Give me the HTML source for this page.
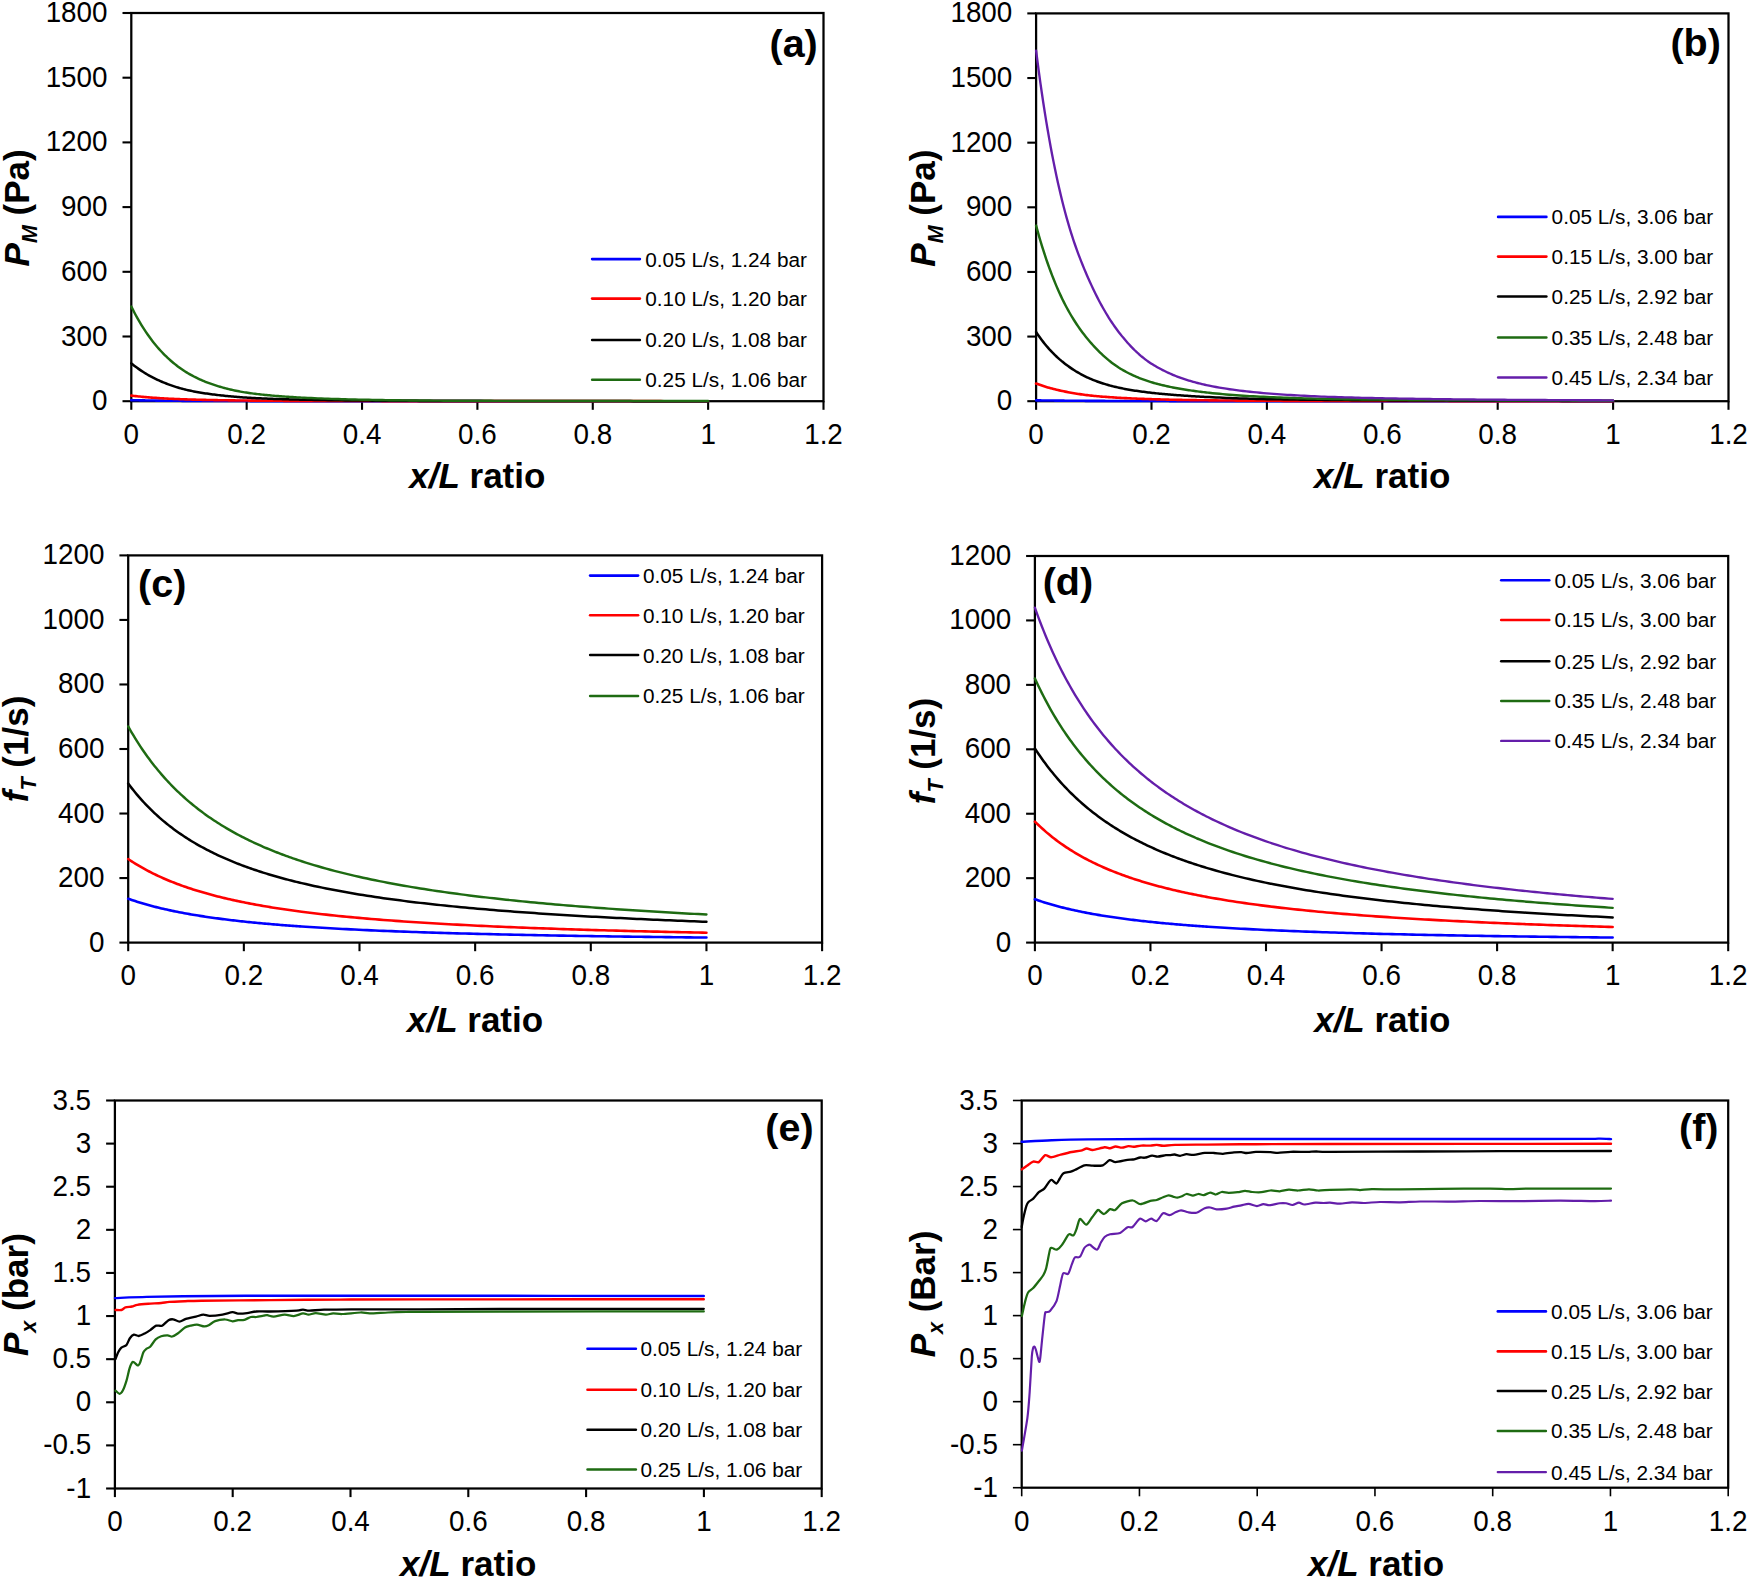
<!DOCTYPE html>
<html lang="en"><head><meta charset="utf-8"><title>Figure</title>
<style>html,body{margin:0;padding:0;background:#fff}svg{display:block;font-family:'Liberation Sans', Arial, Helvetica, sans-serif;fill:#000}</style></head>
<body><svg width="1750" height="1578" viewBox="0 0 1750 1578">
<rect width="1750" height="1578" fill="#fff"/>
<rect x="131.3" y="13" width="692.2" height="388.2" fill="none" stroke="#000" stroke-width="2.25"/>
<line x1="131.3" y1="401.2" x2="131.3" y2="409.8" stroke="#000" stroke-width="2.1" stroke-linecap="butt"/>
<text transform="translate(131.3 444) scale(0.915 1)" font-size="30.4" text-anchor="middle" font-weight="normal" font-style="normal">0</text>
<line x1="246.67" y1="401.2" x2="246.67" y2="409.8" stroke="#000" stroke-width="2.1" stroke-linecap="butt"/>
<text transform="translate(246.67 444) scale(0.915 1)" font-size="30.4" text-anchor="middle" font-weight="normal" font-style="normal">0.2</text>
<line x1="362.03" y1="401.2" x2="362.03" y2="409.8" stroke="#000" stroke-width="2.1" stroke-linecap="butt"/>
<text transform="translate(362.03 444) scale(0.915 1)" font-size="30.4" text-anchor="middle" font-weight="normal" font-style="normal">0.4</text>
<line x1="477.4" y1="401.2" x2="477.4" y2="409.8" stroke="#000" stroke-width="2.1" stroke-linecap="butt"/>
<text transform="translate(477.4 444) scale(0.915 1)" font-size="30.4" text-anchor="middle" font-weight="normal" font-style="normal">0.6</text>
<line x1="592.77" y1="401.2" x2="592.77" y2="409.8" stroke="#000" stroke-width="2.1" stroke-linecap="butt"/>
<text transform="translate(592.77 444) scale(0.915 1)" font-size="30.4" text-anchor="middle" font-weight="normal" font-style="normal">0.8</text>
<line x1="708.13" y1="401.2" x2="708.13" y2="409.8" stroke="#000" stroke-width="2.1" stroke-linecap="butt"/>
<text transform="translate(708.13 444) scale(0.915 1)" font-size="30.4" text-anchor="middle" font-weight="normal" font-style="normal">1</text>
<line x1="823.5" y1="401.2" x2="823.5" y2="409.8" stroke="#000" stroke-width="2.1" stroke-linecap="butt"/>
<text transform="translate(823.5 444) scale(0.915 1)" font-size="30.4" text-anchor="middle" font-weight="normal" font-style="normal">1.2</text>
<line x1="122.5" y1="401.2" x2="131.3" y2="401.2" stroke="#000" stroke-width="2.1" stroke-linecap="butt"/>
<text transform="translate(107.5 410.2) scale(0.915 1)" font-size="30.4" text-anchor="end" font-weight="normal" font-style="normal">0</text>
<line x1="122.5" y1="336.5" x2="131.3" y2="336.5" stroke="#000" stroke-width="2.1" stroke-linecap="butt"/>
<text transform="translate(107.5 345.5) scale(0.915 1)" font-size="30.4" text-anchor="end" font-weight="normal" font-style="normal">300</text>
<line x1="122.5" y1="271.8" x2="131.3" y2="271.8" stroke="#000" stroke-width="2.1" stroke-linecap="butt"/>
<text transform="translate(107.5 280.8) scale(0.915 1)" font-size="30.4" text-anchor="end" font-weight="normal" font-style="normal">600</text>
<line x1="122.5" y1="207.1" x2="131.3" y2="207.1" stroke="#000" stroke-width="2.1" stroke-linecap="butt"/>
<text transform="translate(107.5 216.1) scale(0.915 1)" font-size="30.4" text-anchor="end" font-weight="normal" font-style="normal">900</text>
<line x1="122.5" y1="142.4" x2="131.3" y2="142.4" stroke="#000" stroke-width="2.1" stroke-linecap="butt"/>
<text transform="translate(107.5 151.4) scale(0.915 1)" font-size="30.4" text-anchor="end" font-weight="normal" font-style="normal">1200</text>
<line x1="122.5" y1="77.7" x2="131.3" y2="77.7" stroke="#000" stroke-width="2.1" stroke-linecap="butt"/>
<text transform="translate(107.5 86.7) scale(0.915 1)" font-size="30.4" text-anchor="end" font-weight="normal" font-style="normal">1500</text>
<line x1="122.5" y1="13" x2="131.3" y2="13" stroke="#000" stroke-width="2.1" stroke-linecap="butt"/>
<text transform="translate(107.5 22) scale(0.915 1)" font-size="30.4" text-anchor="end" font-weight="normal" font-style="normal">1800</text>
<path d="M131.3 400.16 L132.75 400.2 L134.21 400.23 L135.66 400.26 L137.12 400.29 L138.57 400.32 L140.03 400.35 L141.48 400.37 L142.93 400.4 L144.39 400.42 L145.84 400.45 L147.3 400.47 L148.75 400.49 L150.2 400.51 L151.66 400.53 L153.11 400.55 L154.57 400.57 L156.02 400.59 L157.48 400.61 L158.93 400.63 L160.38 400.64 L161.84 400.66 L163.29 400.67 L164.75 400.69 L166.2 400.7 L167.66 400.72 L169.11 400.73 L170.56 400.74 L172.02 400.76 L173.47 400.77 L174.93 400.78 L176.38 400.79 L177.83 400.8 L179.29 400.81 L180.74 400.82 L182.2 400.83 L183.65 400.84 L185.11 400.85 L186.56 400.86 L188.01 400.87 L189.47 400.88 L190.92 400.89 L192.38 400.9 L193.83 400.9 L195.28 400.91 L196.74 400.92 L198.19 400.93 L199.65 400.93 L201.1 400.94 L202.56 400.95 L204.01 400.95 L205.46 400.96 L206.92 400.97 L208.37 400.97 L209.83 400.98 L211.28 400.98 L212.74 400.99 L214.19 400.99 L215.64 401 L217.1 401 L218.55 401.01 L220.01 401.01 L221.46 401.02 L222.91 401.02 L224.37 401.02 L225.82 401.03 L227.28 401.03 L228.73 401.04 L230.19 401.04 L231.64 401.04 L233.09 401.04 L234.55 401.05 L236 401.05 L237.46 401.05 L238.91 401.06 L240.37 401.06 L241.82 401.06 L243.27 401.06 L244.73 401.07 L246.18 401.07 L247.64 401.07 L249.09 401.07 L250.54 401.08 L252 401.08 L253.45 401.08 L254.91 401.08 L256.36 401.09 L257.82 401.09 L259.27 401.09 L260.72 401.09 L262.18 401.09 L263.63 401.1 L265.09 401.1 L266.54 401.1 L267.99 401.1 L269.45 401.1 L270.9 401.11 L272.36 401.11 L273.81 401.11 L275.27 401.11 L276.72 401.11 L278.17 401.11 L279.63 401.12 L281.08 401.12 L282.54 401.12 L283.99 401.12 L285.45 401.12 L286.9 401.12 L288.35 401.12 L289.81 401.13 L291.26 401.13 L292.72 401.13 L294.17 401.13 L295.62 401.13 L297.08 401.13 L298.53 401.13 L299.99 401.13 L301.44 401.13 L302.9 401.13 L304.35 401.14 L307.74 401.14 L311.14 401.14 L314.53 401.14 L317.92 401.14 L321.32 401.14 L324.71 401.15 L328.1 401.15 L331.5 401.15 L334.89 401.15 L338.28 401.15 L341.67 401.15 L345.07 401.15 L348.46 401.15 L351.85 401.15 L355.25 401.16 L358.64 401.16 L362.03 401.16 L365.43 401.16 L368.82 401.16 L372.21 401.16 L375.61 401.16 L379 401.16 L382.39 401.16 L385.79 401.16 L389.18 401.16 L392.57 401.16 L395.96 401.16 L399.36 401.16 L402.75 401.17 L406.14 401.17 L409.54 401.17 L412.93 401.17 L416.32 401.17 L419.72 401.17 L423.11 401.17 L426.5 401.17 L429.9 401.17 L433.29 401.17 L436.68 401.17 L440.08 401.17 L443.47 401.17 L446.86 401.17 L450.25 401.17 L453.65 401.17 L457.04 401.17 L460.43 401.17 L463.83 401.17 L467.22 401.17 L470.61 401.17 L474.01 401.17 L477.4 401.17 L480.79 401.17 L484.19 401.18 L487.58 401.18 L490.97 401.18 L494.37 401.18 L497.76 401.18 L501.15 401.18 L504.55 401.18 L507.94 401.18 L511.33 401.18 L514.72 401.18 L518.12 401.18 L521.51 401.18 L524.9 401.18 L528.3 401.18 L531.69 401.18 L535.08 401.18 L538.48 401.18 L541.87 401.18 L545.26 401.18 L548.66 401.18 L552.05 401.18 L555.44 401.18 L558.84 401.18 L562.23 401.18 L565.62 401.18 L569.01 401.18 L572.41 401.18 L575.8 401.18 L579.19 401.18 L582.59 401.18 L585.98 401.18 L589.37 401.18 L592.77 401.18 L596.16 401.18 L599.55 401.18 L602.95 401.18 L606.34 401.18 L609.73 401.18 L613.13 401.18 L616.52 401.18 L619.91 401.18 L623.3 401.18 L626.7 401.18 L630.09 401.18 L633.48 401.18 L636.88 401.18 L640.27 401.18 L643.66 401.18 L647.06 401.18 L650.45 401.18 L653.84 401.18 L657.24 401.18 L660.63 401.18 L664.02 401.18 L667.42 401.18 L670.81 401.18 L674.2 401.18 L677.6 401.18 L680.99 401.18 L684.38 401.18 L687.77 401.18 L691.17 401.18 L694.56 401.18 L697.95 401.18 L701.35 401.18 L704.74 401.18 L708.13 401.18" fill="none" stroke="#0000ff" stroke-width="2.6" stroke-linejoin="round" stroke-linecap="round"/>
<path d="M131.3 395.59 L132.75 395.77 L134.21 395.95 L135.66 396.11 L137.12 396.27 L138.57 396.43 L140.03 396.58 L141.48 396.72 L142.93 396.86 L144.39 397 L145.84 397.13 L147.3 397.25 L148.75 397.37 L150.2 397.49 L151.66 397.6 L153.11 397.71 L154.57 397.81 L156.02 397.91 L157.48 398.01 L158.93 398.1 L160.38 398.2 L161.84 398.28 L163.29 398.37 L164.75 398.45 L166.2 398.53 L167.66 398.6 L169.11 398.68 L170.56 398.75 L172.02 398.82 L173.47 398.88 L174.93 398.95 L176.38 399.01 L177.83 399.07 L179.29 399.13 L180.74 399.19 L182.2 399.24 L183.65 399.29 L185.11 399.35 L186.56 399.4 L188.01 399.44 L189.47 399.49 L190.92 399.54 L192.38 399.58 L193.83 399.62 L195.28 399.66 L196.74 399.7 L198.19 399.74 L199.65 399.78 L201.1 399.82 L202.56 399.85 L204.01 399.89 L205.46 399.92 L206.92 399.95 L208.37 399.98 L209.83 400.01 L211.28 400.04 L212.74 400.07 L214.19 400.1 L215.64 400.13 L217.1 400.15 L218.55 400.18 L220.01 400.2 L221.46 400.23 L222.91 400.25 L224.37 400.27 L225.82 400.3 L227.28 400.32 L228.73 400.34 L230.19 400.36 L231.64 400.38 L233.09 400.4 L234.55 400.42 L236 400.43 L237.46 400.45 L238.91 400.47 L240.37 400.49 L241.82 400.5 L243.27 400.52 L244.73 400.53 L246.18 400.55 L247.64 400.56 L249.09 400.58 L250.54 400.59 L252 400.6 L253.45 400.62 L254.91 400.63 L256.36 400.64 L257.82 400.66 L259.27 400.67 L260.72 400.68 L262.18 400.69 L263.63 400.7 L265.09 400.71 L266.54 400.72 L267.99 400.73 L269.45 400.74 L270.9 400.75 L272.36 400.76 L273.81 400.77 L275.27 400.78 L276.72 400.79 L278.17 400.8 L279.63 400.81 L281.08 400.82 L282.54 400.82 L283.99 400.83 L285.45 400.84 L286.9 400.85 L288.35 400.85 L289.81 400.86 L291.26 400.87 L292.72 400.87 L294.17 400.88 L295.62 400.89 L297.08 400.89 L298.53 400.9 L299.99 400.9 L301.44 400.91 L302.9 400.91 L304.35 400.92 L307.74 400.93 L311.14 400.94 L314.53 400.95 L317.92 400.96 L321.32 400.97 L324.71 400.98 L328.1 400.99 L331.5 400.99 L334.89 401 L338.28 401.01 L341.67 401.01 L345.07 401.02 L348.46 401.03 L351.85 401.03 L355.25 401.04 L358.64 401.04 L362.03 401.05 L365.43 401.05 L368.82 401.06 L372.21 401.06 L375.61 401.07 L379 401.07 L382.39 401.08 L385.79 401.08 L389.18 401.09 L392.57 401.09 L395.96 401.09 L399.36 401.1 L402.75 401.1 L406.14 401.1 L409.54 401.11 L412.93 401.11 L416.32 401.11 L419.72 401.11 L423.11 401.12 L426.5 401.12 L429.9 401.12 L433.29 401.12 L436.68 401.12 L440.08 401.13 L443.47 401.13 L446.86 401.13 L450.25 401.13 L453.65 401.13 L457.04 401.13 L460.43 401.13 L463.83 401.14 L467.22 401.14 L470.61 401.14 L474.01 401.14 L477.4 401.14 L480.79 401.14 L484.19 401.14 L487.58 401.14 L490.97 401.15 L494.37 401.15 L497.76 401.15 L501.15 401.15 L504.55 401.15 L507.94 401.15 L511.33 401.15 L514.72 401.15 L518.12 401.15 L521.51 401.15 L524.9 401.15 L528.3 401.16 L531.69 401.16 L535.08 401.16 L538.48 401.16 L541.87 401.16 L545.26 401.16 L548.66 401.16 L552.05 401.16 L555.44 401.16 L558.84 401.16 L562.23 401.16 L565.62 401.16 L569.01 401.16 L572.41 401.16 L575.8 401.16 L579.19 401.16 L582.59 401.17 L585.98 401.17 L589.37 401.17 L592.77 401.17 L596.16 401.17 L599.55 401.17 L602.95 401.17 L606.34 401.17 L609.73 401.17 L613.13 401.17 L616.52 401.17 L619.91 401.17 L623.3 401.17 L626.7 401.17 L630.09 401.17 L633.48 401.17 L636.88 401.17 L640.27 401.17 L643.66 401.17 L647.06 401.17 L650.45 401.17 L653.84 401.17 L657.24 401.17 L660.63 401.17 L664.02 401.18 L667.42 401.18 L670.81 401.18 L674.2 401.18 L677.6 401.18 L680.99 401.18 L684.38 401.18 L687.77 401.18 L691.17 401.18 L694.56 401.18 L697.95 401.18 L701.35 401.18 L704.74 401.18 L708.13 401.18" fill="none" stroke="#ff0000" stroke-width="2.6" stroke-linejoin="round" stroke-linecap="round"/>
<path d="M131.3 363.35 L132.75 364.53 L134.21 365.67 L135.66 366.78 L137.12 367.85 L138.57 368.89 L140.03 369.89 L141.48 370.87 L142.93 371.81 L144.39 372.73 L145.84 373.61 L147.3 374.47 L148.75 375.31 L150.2 376.11 L151.66 376.89 L153.11 377.65 L154.57 378.39 L156.02 379.1 L157.48 379.78 L158.93 380.45 L160.38 381.1 L161.84 381.73 L163.29 382.34 L164.75 382.93 L166.2 383.51 L167.66 384.07 L169.11 384.62 L170.56 385.14 L172.02 385.65 L173.47 386.15 L174.93 386.62 L176.38 387.08 L177.83 387.53 L179.29 387.95 L180.74 388.37 L182.2 388.76 L183.65 389.14 L185.11 389.51 L186.56 389.86 L188.01 390.2 L189.47 390.52 L190.92 390.83 L192.38 391.13 L193.83 391.42 L195.28 391.7 L196.74 391.97 L198.19 392.23 L199.65 392.48 L201.1 392.72 L202.56 392.96 L204.01 393.18 L205.46 393.4 L206.92 393.61 L208.37 393.82 L209.83 394.02 L211.28 394.22 L212.74 394.41 L214.19 394.59 L215.64 394.77 L217.1 394.95 L218.55 395.12 L220.01 395.28 L221.46 395.45 L222.91 395.6 L224.37 395.76 L225.82 395.91 L227.28 396.05 L228.73 396.19 L230.19 396.33 L231.64 396.46 L233.09 396.59 L234.55 396.72 L236 396.84 L237.46 396.95 L238.91 397.07 L240.37 397.17 L241.82 397.28 L243.27 397.38 L244.73 397.48 L246.18 397.57 L247.64 397.66 L249.09 397.74 L250.54 397.83 L252 397.91 L253.45 397.99 L254.91 398.06 L256.36 398.14 L257.82 398.21 L259.27 398.28 L260.72 398.35 L262.18 398.41 L263.63 398.48 L265.09 398.54 L266.54 398.6 L267.99 398.66 L269.45 398.72 L270.9 398.77 L272.36 398.83 L273.81 398.88 L275.27 398.93 L276.72 398.98 L278.17 399.03 L279.63 399.08 L281.08 399.12 L282.54 399.17 L283.99 399.21 L285.45 399.26 L286.9 399.3 L288.35 399.34 L289.81 399.38 L291.26 399.42 L292.72 399.46 L294.17 399.49 L295.62 399.53 L297.08 399.57 L298.53 399.6 L299.99 399.64 L301.44 399.67 L302.9 399.7 L304.35 399.73 L307.74 399.81 L311.14 399.87 L314.53 399.94 L317.92 400 L321.32 400.06 L324.71 400.11 L328.1 400.17 L331.5 400.22 L334.89 400.26 L338.28 400.31 L341.67 400.35 L345.07 400.39 L348.46 400.42 L351.85 400.46 L355.25 400.49 L358.64 400.52 L362.03 400.55 L365.43 400.58 L368.82 400.61 L372.21 400.63 L375.61 400.66 L379 400.68 L382.39 400.7 L385.79 400.72 L389.18 400.74 L392.57 400.76 L395.96 400.78 L399.36 400.8 L402.75 400.81 L406.14 400.83 L409.54 400.84 L412.93 400.85 L416.32 400.87 L419.72 400.88 L423.11 400.89 L426.5 400.9 L429.9 400.91 L433.29 400.92 L436.68 400.92 L440.08 400.93 L443.47 400.94 L446.86 400.95 L450.25 400.96 L453.65 400.96 L457.04 400.97 L460.43 400.98 L463.83 400.98 L467.22 400.99 L470.61 400.99 L474.01 401 L477.4 401.01 L480.79 401.01 L484.19 401.02 L487.58 401.02 L490.97 401.02 L494.37 401.03 L497.76 401.03 L501.15 401.04 L504.55 401.04 L507.94 401.05 L511.33 401.05 L514.72 401.05 L518.12 401.06 L521.51 401.06 L524.9 401.06 L528.3 401.06 L531.69 401.07 L535.08 401.07 L538.48 401.07 L541.87 401.08 L545.26 401.08 L548.66 401.08 L552.05 401.08 L555.44 401.09 L558.84 401.09 L562.23 401.09 L565.62 401.09 L569.01 401.09 L572.41 401.1 L575.8 401.1 L579.19 401.1 L582.59 401.1 L585.98 401.1 L589.37 401.11 L592.77 401.11 L596.16 401.11 L599.55 401.11 L602.95 401.11 L606.34 401.12 L609.73 401.12 L613.13 401.12 L616.52 401.12 L619.91 401.12 L623.3 401.12 L626.7 401.12 L630.09 401.12 L633.48 401.13 L636.88 401.13 L640.27 401.13 L643.66 401.13 L647.06 401.13 L650.45 401.13 L653.84 401.13 L657.24 401.13 L660.63 401.14 L664.02 401.14 L667.42 401.14 L670.81 401.14 L674.2 401.14 L677.6 401.14 L680.99 401.14 L684.38 401.14 L687.77 401.14 L691.17 401.14 L694.56 401.14 L697.95 401.14 L701.35 401.14 L704.74 401.15 L708.13 401.15" fill="none" stroke="#000000" stroke-width="2.5" stroke-linejoin="round" stroke-linecap="round"/>
<path d="M131.3 306.52 L132.75 309.42 L134.21 312.23 L135.66 314.96 L137.12 317.6 L138.57 320.17 L140.03 322.65 L141.48 325.06 L142.93 327.4 L144.39 329.66 L145.84 331.86 L147.3 333.99 L148.75 336.06 L150.2 338.06 L151.66 340 L153.11 341.88 L154.57 343.7 L156.02 345.47 L157.48 347.19 L158.93 348.85 L160.38 350.46 L161.84 352.02 L163.29 353.54 L164.75 355.02 L166.2 356.45 L167.66 357.84 L169.11 359.19 L170.56 360.49 L172.02 361.76 L173.47 362.98 L174.93 364.17 L176.38 365.32 L177.83 366.43 L179.29 367.51 L180.74 368.55 L182.2 369.55 L183.65 370.52 L185.11 371.46 L186.56 372.37 L188.01 373.24 L189.47 374.09 L190.92 374.91 L192.38 375.7 L193.83 376.46 L195.28 377.21 L196.74 377.93 L198.19 378.62 L199.65 379.29 L201.1 379.95 L202.56 380.58 L204.01 381.19 L205.46 381.78 L206.92 382.35 L208.37 382.91 L209.83 383.44 L211.28 383.96 L212.74 384.46 L214.19 384.95 L215.64 385.42 L217.1 385.88 L218.55 386.32 L220.01 386.75 L221.46 387.17 L222.91 387.58 L224.37 387.98 L225.82 388.37 L227.28 388.74 L228.73 389.1 L230.19 389.45 L231.64 389.79 L233.09 390.12 L234.55 390.44 L236 390.74 L237.46 391.03 L238.91 391.32 L240.37 391.59 L241.82 391.85 L243.27 392.1 L244.73 392.34 L246.18 392.56 L247.64 392.78 L249.09 393 L250.54 393.2 L252 393.4 L253.45 393.59 L254.91 393.77 L256.36 393.95 L257.82 394.13 L259.27 394.3 L260.72 394.46 L262.18 394.62 L263.63 394.77 L265.09 394.92 L266.54 395.06 L267.99 395.2 L269.45 395.34 L270.9 395.47 L272.36 395.6 L273.81 395.73 L275.27 395.85 L276.72 395.97 L278.17 396.08 L279.63 396.2 L281.08 396.31 L282.54 396.41 L283.99 396.52 L285.45 396.62 L286.9 396.72 L288.35 396.82 L289.81 396.91 L291.26 397 L292.72 397.09 L294.17 397.18 L295.62 397.27 L297.08 397.35 L298.53 397.44 L299.99 397.52 L301.44 397.6 L302.9 397.67 L304.35 397.75 L307.74 397.92 L311.14 398.08 L314.53 398.23 L317.92 398.38 L321.32 398.51 L324.71 398.64 L328.1 398.76 L331.5 398.88 L334.89 398.99 L338.28 399.09 L341.67 399.19 L345.07 399.29 L348.46 399.37 L351.85 399.46 L355.25 399.54 L358.64 399.62 L362.03 399.69 L365.43 399.76 L368.82 399.83 L372.21 399.89 L375.61 399.96 L379 400.02 L382.39 400.07 L385.79 400.13 L389.18 400.18 L392.57 400.23 L395.96 400.27 L399.36 400.31 L402.75 400.35 L406.14 400.39 L409.54 400.42 L412.93 400.45 L416.32 400.48 L419.72 400.51 L423.11 400.53 L426.5 400.56 L429.9 400.58 L433.29 400.6 L436.68 400.62 L440.08 400.64 L443.47 400.66 L446.86 400.68 L450.25 400.69 L453.65 400.71 L457.04 400.72 L460.43 400.74 L463.83 400.75 L467.22 400.77 L470.61 400.78 L474.01 400.79 L477.4 400.8 L480.79 400.81 L484.19 400.82 L487.58 400.83 L490.97 400.84 L494.37 400.85 L497.76 400.86 L501.15 400.87 L504.55 400.88 L507.94 400.89 L511.33 400.9 L514.72 400.9 L518.12 400.91 L521.51 400.92 L524.9 400.92 L528.3 400.93 L531.69 400.94 L535.08 400.94 L538.48 400.95 L541.87 400.95 L545.26 400.96 L548.66 400.96 L552.05 400.97 L555.44 400.97 L558.84 400.98 L562.23 400.98 L565.62 400.99 L569.01 400.99 L572.41 401 L575.8 401 L579.19 401 L582.59 401.01 L585.98 401.01 L589.37 401.01 L592.77 401.02 L596.16 401.02 L599.55 401.03 L602.95 401.03 L606.34 401.03 L609.73 401.03 L613.13 401.04 L616.52 401.04 L619.91 401.04 L623.3 401.05 L626.7 401.05 L630.09 401.05 L633.48 401.05 L636.88 401.06 L640.27 401.06 L643.66 401.06 L647.06 401.06 L650.45 401.07 L653.84 401.07 L657.24 401.07 L660.63 401.07 L664.02 401.07 L667.42 401.08 L670.81 401.08 L674.2 401.08 L677.6 401.08 L680.99 401.08 L684.38 401.08 L687.77 401.08 L691.17 401.09 L694.56 401.09 L697.95 401.09 L701.35 401.09 L704.74 401.09 L708.13 401.09" fill="none" stroke="#1e6b12" stroke-width="2.45" stroke-linejoin="round" stroke-linecap="round"/>
<text x="477.3" y="487.9" font-size="35" text-anchor="middle" font-weight="bold"><tspan font-style="italic">x/L</tspan> ratio</text>
<text transform="translate(29 207.9) rotate(-90)" font-size="35" text-anchor="middle" font-weight="bold"><tspan font-style="italic">P</tspan><tspan font-style="italic" font-size="21.5" dy="7.6">M</tspan><tspan dy="-7.6"> (Pa)</tspan></text>
<line x1="592.1" y1="259.1" x2="639.9" y2="259.1" stroke="#0000ff" stroke-width="2.6" stroke-linecap="round"/>
<text transform="translate(645.3 266.5) scale(0.990 1)" font-size="21" text-anchor="start" font-weight="normal" font-style="normal">0.05 L/s, 1.24 bar</text>
<line x1="592.1" y1="298.6" x2="639.9" y2="298.6" stroke="#ff0000" stroke-width="2.6" stroke-linecap="round"/>
<text transform="translate(645.3 306) scale(0.990 1)" font-size="21" text-anchor="start" font-weight="normal" font-style="normal">0.10 L/s, 1.20 bar</text>
<line x1="592.1" y1="340" x2="639.9" y2="340" stroke="#000000" stroke-width="2.5" stroke-linecap="round"/>
<text transform="translate(645.3 347.4) scale(0.990 1)" font-size="21" text-anchor="start" font-weight="normal" font-style="normal">0.20 L/s, 1.08 bar</text>
<line x1="592.1" y1="379.7" x2="639.9" y2="379.7" stroke="#1e6b12" stroke-width="2.45" stroke-linecap="round"/>
<text transform="translate(645.3 387.1) scale(0.990 1)" font-size="21" text-anchor="start" font-weight="normal" font-style="normal">0.25 L/s, 1.06 bar</text>
<text transform="translate(769.5 57) scale(1.000 1)" font-size="39.5" text-anchor="start" font-weight="bold" font-style="normal">(a)</text>
<rect x="1036.1" y="13.4" width="692.4" height="387.8" fill="none" stroke="#000" stroke-width="2.25"/>
<line x1="1036.1" y1="401.2" x2="1036.1" y2="409.8" stroke="#000" stroke-width="2.1" stroke-linecap="butt"/>
<text transform="translate(1036.1 444) scale(0.915 1)" font-size="30.4" text-anchor="middle" font-weight="normal" font-style="normal">0</text>
<line x1="1151.5" y1="401.2" x2="1151.5" y2="409.8" stroke="#000" stroke-width="2.1" stroke-linecap="butt"/>
<text transform="translate(1151.5 444) scale(0.915 1)" font-size="30.4" text-anchor="middle" font-weight="normal" font-style="normal">0.2</text>
<line x1="1266.9" y1="401.2" x2="1266.9" y2="409.8" stroke="#000" stroke-width="2.1" stroke-linecap="butt"/>
<text transform="translate(1266.9 444) scale(0.915 1)" font-size="30.4" text-anchor="middle" font-weight="normal" font-style="normal">0.4</text>
<line x1="1382.3" y1="401.2" x2="1382.3" y2="409.8" stroke="#000" stroke-width="2.1" stroke-linecap="butt"/>
<text transform="translate(1382.3 444) scale(0.915 1)" font-size="30.4" text-anchor="middle" font-weight="normal" font-style="normal">0.6</text>
<line x1="1497.7" y1="401.2" x2="1497.7" y2="409.8" stroke="#000" stroke-width="2.1" stroke-linecap="butt"/>
<text transform="translate(1497.7 444) scale(0.915 1)" font-size="30.4" text-anchor="middle" font-weight="normal" font-style="normal">0.8</text>
<line x1="1613.1" y1="401.2" x2="1613.1" y2="409.8" stroke="#000" stroke-width="2.1" stroke-linecap="butt"/>
<text transform="translate(1613.1 444) scale(0.915 1)" font-size="30.4" text-anchor="middle" font-weight="normal" font-style="normal">1</text>
<line x1="1728.5" y1="401.2" x2="1728.5" y2="409.8" stroke="#000" stroke-width="2.1" stroke-linecap="butt"/>
<text transform="translate(1728.5 444) scale(0.915 1)" font-size="30.4" text-anchor="middle" font-weight="normal" font-style="normal">1.2</text>
<line x1="1027.3" y1="401.2" x2="1036.1" y2="401.2" stroke="#000" stroke-width="2.1" stroke-linecap="butt"/>
<text transform="translate(1012.3 410.2) scale(0.915 1)" font-size="30.4" text-anchor="end" font-weight="normal" font-style="normal">0</text>
<line x1="1027.3" y1="336.57" x2="1036.1" y2="336.57" stroke="#000" stroke-width="2.1" stroke-linecap="butt"/>
<text transform="translate(1012.3 345.57) scale(0.915 1)" font-size="30.4" text-anchor="end" font-weight="normal" font-style="normal">300</text>
<line x1="1027.3" y1="271.93" x2="1036.1" y2="271.93" stroke="#000" stroke-width="2.1" stroke-linecap="butt"/>
<text transform="translate(1012.3 280.93) scale(0.915 1)" font-size="30.4" text-anchor="end" font-weight="normal" font-style="normal">600</text>
<line x1="1027.3" y1="207.3" x2="1036.1" y2="207.3" stroke="#000" stroke-width="2.1" stroke-linecap="butt"/>
<text transform="translate(1012.3 216.3) scale(0.915 1)" font-size="30.4" text-anchor="end" font-weight="normal" font-style="normal">900</text>
<line x1="1027.3" y1="142.67" x2="1036.1" y2="142.67" stroke="#000" stroke-width="2.1" stroke-linecap="butt"/>
<text transform="translate(1012.3 151.67) scale(0.915 1)" font-size="30.4" text-anchor="end" font-weight="normal" font-style="normal">1200</text>
<line x1="1027.3" y1="78.03" x2="1036.1" y2="78.03" stroke="#000" stroke-width="2.1" stroke-linecap="butt"/>
<text transform="translate(1012.3 87.03) scale(0.915 1)" font-size="30.4" text-anchor="end" font-weight="normal" font-style="normal">1500</text>
<line x1="1027.3" y1="13.4" x2="1036.1" y2="13.4" stroke="#000" stroke-width="2.1" stroke-linecap="butt"/>
<text transform="translate(1012.3 22.4) scale(0.915 1)" font-size="30.4" text-anchor="end" font-weight="normal" font-style="normal">1800</text>
<path d="M1036.1 400.34 L1037.55 400.36 L1039.01 400.38 L1040.46 400.4 L1041.92 400.43 L1043.37 400.45 L1044.83 400.46 L1046.28 400.48 L1047.74 400.5 L1049.19 400.52 L1050.65 400.54 L1052.1 400.55 L1053.56 400.57 L1055.01 400.59 L1056.46 400.6 L1057.92 400.62 L1059.37 400.63 L1060.83 400.65 L1062.28 400.66 L1063.74 400.67 L1065.19 400.69 L1066.65 400.7 L1068.1 400.71 L1069.56 400.72 L1071.01 400.73 L1072.47 400.74 L1073.92 400.76 L1075.37 400.77 L1076.83 400.78 L1078.28 400.79 L1079.74 400.8 L1081.19 400.81 L1082.65 400.82 L1084.1 400.82 L1085.56 400.83 L1087.01 400.84 L1088.47 400.85 L1089.92 400.86 L1091.38 400.86 L1092.83 400.87 L1094.28 400.88 L1095.74 400.89 L1097.19 400.89 L1098.65 400.9 L1100.1 400.91 L1101.56 400.91 L1103.01 400.92 L1104.47 400.92 L1105.92 400.93 L1107.38 400.93 L1108.83 400.94 L1110.29 400.95 L1111.74 400.95 L1113.19 400.96 L1114.65 400.96 L1116.1 400.96 L1117.56 400.97 L1119.01 400.97 L1120.47 400.98 L1121.92 400.98 L1123.38 400.99 L1124.83 400.99 L1126.29 400.99 L1127.74 401 L1129.2 401 L1130.65 401.01 L1132.11 401.01 L1133.56 401.01 L1135.01 401.02 L1136.47 401.02 L1137.92 401.02 L1139.38 401.03 L1140.83 401.03 L1142.29 401.03 L1143.74 401.04 L1145.2 401.04 L1146.65 401.04 L1148.11 401.04 L1149.56 401.05 L1151.02 401.05 L1152.47 401.05 L1153.92 401.05 L1155.38 401.06 L1156.83 401.06 L1158.29 401.06 L1159.74 401.06 L1161.2 401.06 L1162.65 401.07 L1164.11 401.07 L1165.56 401.07 L1167.02 401.07 L1168.47 401.07 L1169.93 401.08 L1171.38 401.08 L1172.83 401.08 L1174.29 401.08 L1175.74 401.08 L1177.2 401.09 L1178.65 401.09 L1180.11 401.09 L1181.56 401.09 L1183.02 401.09 L1184.47 401.09 L1185.93 401.1 L1187.38 401.1 L1188.84 401.1 L1190.29 401.1 L1191.74 401.1 L1193.2 401.1 L1194.65 401.1 L1196.11 401.1 L1197.56 401.11 L1199.02 401.11 L1200.47 401.11 L1201.93 401.11 L1203.38 401.11 L1204.84 401.11 L1206.29 401.11 L1207.75 401.11 L1209.2 401.11 L1212.59 401.12 L1215.99 401.12 L1219.38 401.12 L1222.78 401.12 L1226.17 401.12 L1229.56 401.12 L1232.96 401.12 L1236.35 401.13 L1239.75 401.13 L1243.14 401.13 L1246.54 401.13 L1249.93 401.13 L1253.32 401.13 L1256.72 401.13 L1260.11 401.13 L1263.51 401.13 L1266.9 401.14 L1270.29 401.14 L1273.69 401.14 L1277.08 401.14 L1280.48 401.14 L1283.87 401.14 L1287.26 401.14 L1290.66 401.15 L1294.05 401.15 L1297.45 401.15 L1300.84 401.15 L1304.24 401.15 L1307.63 401.15 L1311.02 401.15 L1314.42 401.15 L1317.81 401.16 L1321.21 401.16 L1324.6 401.16 L1327.99 401.16 L1331.39 401.16 L1334.78 401.16 L1338.18 401.16 L1341.57 401.16 L1344.96 401.16 L1348.36 401.16 L1351.75 401.16 L1355.15 401.16 L1358.54 401.16 L1361.94 401.16 L1365.33 401.16 L1368.72 401.16 L1372.12 401.16 L1375.51 401.16 L1378.91 401.16 L1382.3 401.16 L1385.69 401.16 L1389.09 401.16 L1392.48 401.16 L1395.88 401.16 L1399.27 401.16 L1402.66 401.16 L1406.06 401.17 L1409.45 401.17 L1412.85 401.17 L1416.24 401.17 L1419.64 401.17 L1423.03 401.17 L1426.42 401.17 L1429.82 401.17 L1433.21 401.17 L1436.61 401.17 L1440 401.17 L1443.39 401.17 L1446.79 401.17 L1450.18 401.17 L1453.58 401.17 L1456.97 401.17 L1460.36 401.17 L1463.76 401.17 L1467.15 401.17 L1470.55 401.17 L1473.94 401.17 L1477.34 401.17 L1480.73 401.17 L1484.12 401.17 L1487.52 401.17 L1490.91 401.17 L1494.31 401.17 L1497.7 401.17 L1501.09 401.17 L1504.49 401.17 L1507.88 401.17 L1511.28 401.17 L1514.67 401.17 L1518.06 401.17 L1521.46 401.17 L1524.85 401.17 L1528.25 401.17 L1531.64 401.17 L1535.04 401.17 L1538.43 401.17 L1541.82 401.17 L1545.22 401.17 L1548.61 401.18 L1552.01 401.18 L1555.4 401.18 L1558.79 401.18 L1562.19 401.18 L1565.58 401.18 L1568.98 401.18 L1572.37 401.18 L1575.76 401.18 L1579.16 401.18 L1582.55 401.18 L1585.95 401.18 L1589.34 401.18 L1592.74 401.18 L1596.13 401.18 L1599.52 401.18 L1602.92 401.18 L1606.31 401.18 L1609.71 401.18 L1613.1 401.18" fill="none" stroke="#0000ff" stroke-width="2.6" stroke-linejoin="round" stroke-linecap="round"/>
<path d="M1036.1 383.53 L1037.55 384.07 L1039.01 384.59 L1040.46 385.1 L1041.92 385.59 L1043.37 386.06 L1044.83 386.52 L1046.28 386.96 L1047.74 387.39 L1049.19 387.81 L1050.65 388.21 L1052.1 388.6 L1053.56 388.98 L1055.01 389.35 L1056.46 389.7 L1057.92 390.05 L1059.37 390.38 L1060.83 390.71 L1062.28 391.02 L1063.74 391.32 L1065.19 391.62 L1066.65 391.9 L1068.1 392.18 L1069.56 392.46 L1071.01 392.72 L1072.47 392.98 L1073.92 393.23 L1075.37 393.47 L1076.83 393.7 L1078.28 393.93 L1079.74 394.15 L1081.19 394.36 L1082.65 394.56 L1084.1 394.76 L1085.56 394.95 L1087.01 395.13 L1088.47 395.3 L1089.92 395.47 L1091.38 395.63 L1092.83 395.78 L1094.28 395.93 L1095.74 396.07 L1097.19 396.2 L1098.65 396.33 L1100.1 396.46 L1101.56 396.58 L1103.01 396.7 L1104.47 396.81 L1105.92 396.92 L1107.38 397.02 L1108.83 397.13 L1110.29 397.23 L1111.74 397.32 L1113.19 397.42 L1114.65 397.51 L1116.1 397.6 L1117.56 397.68 L1119.01 397.77 L1120.47 397.85 L1121.92 397.93 L1123.38 398.01 L1124.83 398.08 L1126.29 398.16 L1127.74 398.23 L1129.2 398.3 L1130.65 398.37 L1132.11 398.44 L1133.56 398.5 L1135.01 398.57 L1136.47 398.63 L1137.92 398.69 L1139.38 398.75 L1140.83 398.8 L1142.29 398.86 L1143.74 398.91 L1145.2 398.96 L1146.65 399.01 L1148.11 399.06 L1149.56 399.11 L1151.02 399.16 L1152.47 399.21 L1153.92 399.25 L1155.38 399.29 L1156.83 399.34 L1158.29 399.38 L1159.74 399.42 L1161.2 399.46 L1162.65 399.5 L1164.11 399.53 L1165.56 399.57 L1167.02 399.61 L1168.47 399.64 L1169.93 399.68 L1171.38 399.71 L1172.83 399.74 L1174.29 399.78 L1175.74 399.81 L1177.2 399.84 L1178.65 399.87 L1180.11 399.9 L1181.56 399.92 L1183.02 399.95 L1184.47 399.98 L1185.93 400 L1187.38 400.03 L1188.84 400.05 L1190.29 400.08 L1191.74 400.1 L1193.2 400.12 L1194.65 400.15 L1196.11 400.17 L1197.56 400.19 L1199.02 400.21 L1200.47 400.23 L1201.93 400.25 L1203.38 400.27 L1204.84 400.29 L1206.29 400.3 L1207.75 400.32 L1209.2 400.34 L1212.59 400.38 L1215.99 400.41 L1219.38 400.45 L1222.78 400.48 L1226.17 400.51 L1229.56 400.54 L1232.96 400.57 L1236.35 400.59 L1239.75 400.62 L1243.14 400.64 L1246.54 400.66 L1249.93 400.68 L1253.32 400.7 L1256.72 400.72 L1260.11 400.74 L1263.51 400.75 L1266.9 400.77 L1270.29 400.78 L1273.69 400.8 L1277.08 400.81 L1280.48 400.82 L1283.87 400.84 L1287.26 400.85 L1290.66 400.86 L1294.05 400.87 L1297.45 400.88 L1300.84 400.89 L1304.24 400.9 L1307.63 400.9 L1311.02 400.91 L1314.42 400.92 L1317.81 400.93 L1321.21 400.93 L1324.6 400.94 L1327.99 400.95 L1331.39 400.95 L1334.78 400.96 L1338.18 400.97 L1341.57 400.97 L1344.96 400.98 L1348.36 400.98 L1351.75 400.99 L1355.15 400.99 L1358.54 401 L1361.94 401 L1365.33 401 L1368.72 401.01 L1372.12 401.01 L1375.51 401.02 L1378.91 401.02 L1382.3 401.02 L1385.69 401.03 L1389.09 401.03 L1392.48 401.03 L1395.88 401.04 L1399.27 401.04 L1402.66 401.04 L1406.06 401.05 L1409.45 401.05 L1412.85 401.05 L1416.24 401.05 L1419.64 401.06 L1423.03 401.06 L1426.42 401.06 L1429.82 401.06 L1433.21 401.07 L1436.61 401.07 L1440 401.07 L1443.39 401.07 L1446.79 401.07 L1450.18 401.08 L1453.58 401.08 L1456.97 401.08 L1460.36 401.08 L1463.76 401.08 L1467.15 401.09 L1470.55 401.09 L1473.94 401.09 L1477.34 401.09 L1480.73 401.09 L1484.12 401.1 L1487.52 401.1 L1490.91 401.1 L1494.31 401.1 L1497.7 401.1 L1501.09 401.1 L1504.49 401.1 L1507.88 401.11 L1511.28 401.11 L1514.67 401.11 L1518.06 401.11 L1521.46 401.11 L1524.85 401.11 L1528.25 401.11 L1531.64 401.11 L1535.04 401.12 L1538.43 401.12 L1541.82 401.12 L1545.22 401.12 L1548.61 401.12 L1552.01 401.12 L1555.4 401.12 L1558.79 401.12 L1562.19 401.12 L1565.58 401.12 L1568.98 401.13 L1572.37 401.13 L1575.76 401.13 L1579.16 401.13 L1582.55 401.13 L1585.95 401.13 L1589.34 401.13 L1592.74 401.13 L1596.13 401.13 L1599.52 401.13 L1602.92 401.13 L1606.31 401.13 L1609.71 401.13 L1613.1 401.14" fill="none" stroke="#ff0000" stroke-width="2.6" stroke-linejoin="round" stroke-linecap="round"/>
<path d="M1036.1 332.04 L1037.55 334.2 L1039.01 336.28 L1040.46 338.3 L1041.92 340.25 L1043.37 342.13 L1044.83 343.95 L1046.28 345.7 L1047.74 347.4 L1049.19 349.05 L1050.65 350.63 L1052.1 352.17 L1053.56 353.65 L1055.01 355.09 L1056.46 356.48 L1057.92 357.82 L1059.37 359.12 L1060.83 360.37 L1062.28 361.59 L1063.74 362.76 L1065.19 363.9 L1066.65 365 L1068.1 366.07 L1069.56 367.11 L1071.01 368.12 L1072.47 369.1 L1073.92 370.04 L1075.37 370.96 L1076.83 371.84 L1078.28 372.7 L1079.74 373.53 L1081.19 374.33 L1082.65 375.1 L1084.1 375.84 L1085.56 376.56 L1087.01 377.26 L1088.47 377.93 L1089.92 378.57 L1091.38 379.19 L1092.83 379.79 L1094.28 380.36 L1095.74 380.92 L1097.19 381.46 L1098.65 381.98 L1100.1 382.48 L1101.56 382.97 L1103.01 383.45 L1104.47 383.91 L1105.92 384.35 L1107.38 384.78 L1108.83 385.19 L1110.29 385.59 L1111.74 385.98 L1113.19 386.35 L1114.65 386.72 L1116.1 387.07 L1117.56 387.4 L1119.01 387.73 L1120.47 388.04 L1121.92 388.34 L1123.38 388.63 L1124.83 388.91 L1126.29 389.19 L1127.74 389.45 L1129.2 389.7 L1130.65 389.95 L1132.11 390.19 L1133.56 390.42 L1135.01 390.64 L1136.47 390.86 L1137.92 391.07 L1139.38 391.28 L1140.83 391.48 L1142.29 391.67 L1143.74 391.86 L1145.2 392.05 L1146.65 392.23 L1148.11 392.4 L1149.56 392.58 L1151.02 392.74 L1152.47 392.91 L1153.92 393.07 L1155.38 393.22 L1156.83 393.37 L1158.29 393.52 L1159.74 393.67 L1161.2 393.81 L1162.65 393.94 L1164.11 394.08 L1165.56 394.21 L1167.02 394.34 L1168.47 394.46 L1169.93 394.59 L1171.38 394.71 L1172.83 394.82 L1174.29 394.94 L1175.74 395.05 L1177.2 395.16 L1178.65 395.27 L1180.11 395.37 L1181.56 395.48 L1183.02 395.58 L1184.47 395.68 L1185.93 395.77 L1187.38 395.87 L1188.84 395.96 L1190.29 396.05 L1191.74 396.14 L1193.2 396.23 L1194.65 396.32 L1196.11 396.4 L1197.56 396.49 L1199.02 396.57 L1200.47 396.65 L1201.93 396.73 L1203.38 396.81 L1204.84 396.88 L1206.29 396.96 L1207.75 397.03 L1209.2 397.11 L1212.59 397.27 L1215.99 397.43 L1219.38 397.59 L1222.78 397.74 L1226.17 397.89 L1229.56 398.02 L1232.96 398.16 L1236.35 398.28 L1239.75 398.4 L1243.14 398.51 L1246.54 398.62 L1249.93 398.72 L1253.32 398.81 L1256.72 398.9 L1260.11 398.98 L1263.51 399.06 L1266.9 399.13 L1270.29 399.2 L1273.69 399.26 L1277.08 399.32 L1280.48 399.37 L1283.87 399.43 L1287.26 399.48 L1290.66 399.52 L1294.05 399.57 L1297.45 399.61 L1300.84 399.65 L1304.24 399.69 L1307.63 399.73 L1311.02 399.77 L1314.42 399.81 L1317.81 399.84 L1321.21 399.87 L1324.6 399.91 L1327.99 399.94 L1331.39 399.97 L1334.78 400 L1338.18 400.03 L1341.57 400.06 L1344.96 400.09 L1348.36 400.11 L1351.75 400.14 L1355.15 400.16 L1358.54 400.19 L1361.94 400.21 L1365.33 400.23 L1368.72 400.26 L1372.12 400.28 L1375.51 400.3 L1378.91 400.32 L1382.3 400.34 L1385.69 400.36 L1389.09 400.38 L1392.48 400.39 L1395.88 400.41 L1399.27 400.43 L1402.66 400.44 L1406.06 400.46 L1409.45 400.48 L1412.85 400.49 L1416.24 400.51 L1419.64 400.52 L1423.03 400.53 L1426.42 400.55 L1429.82 400.56 L1433.21 400.57 L1436.61 400.58 L1440 400.6 L1443.39 400.61 L1446.79 400.62 L1450.18 400.63 L1453.58 400.64 L1456.97 400.65 L1460.36 400.66 L1463.76 400.67 L1467.15 400.68 L1470.55 400.69 L1473.94 400.7 L1477.34 400.71 L1480.73 400.72 L1484.12 400.73 L1487.52 400.74 L1490.91 400.74 L1494.31 400.75 L1497.7 400.76 L1501.09 400.77 L1504.49 400.78 L1507.88 400.78 L1511.28 400.79 L1514.67 400.8 L1518.06 400.8 L1521.46 400.81 L1524.85 400.82 L1528.25 400.82 L1531.64 400.83 L1535.04 400.84 L1538.43 400.84 L1541.82 400.85 L1545.22 400.85 L1548.61 400.86 L1552.01 400.86 L1555.4 400.87 L1558.79 400.87 L1562.19 400.88 L1565.58 400.88 L1568.98 400.89 L1572.37 400.89 L1575.76 400.9 L1579.16 400.9 L1582.55 400.91 L1585.95 400.91 L1589.34 400.92 L1592.74 400.92 L1596.13 400.92 L1599.52 400.93 L1602.92 400.93 L1606.31 400.93 L1609.71 400.94 L1613.1 400.94" fill="none" stroke="#000000" stroke-width="2.5" stroke-linejoin="round" stroke-linecap="round"/>
<path d="M1036.1 225.61 L1037.55 230.92 L1039.01 236.04 L1040.46 241.01 L1041.92 245.81 L1043.37 250.46 L1044.83 254.96 L1046.28 259.31 L1047.74 263.52 L1049.19 267.6 L1050.65 271.54 L1052.1 275.36 L1053.56 279.06 L1055.01 282.64 L1056.46 286.11 L1057.92 289.46 L1059.37 292.71 L1060.83 295.86 L1062.28 298.91 L1063.74 301.86 L1065.19 304.72 L1066.65 307.48 L1068.1 310.16 L1069.56 312.74 L1071.01 315.24 L1072.47 317.66 L1073.92 320.01 L1075.37 322.28 L1076.83 324.49 L1078.28 326.63 L1079.74 328.7 L1081.19 330.72 L1082.65 332.68 L1084.1 334.58 L1085.56 336.44 L1087.01 338.24 L1088.47 339.99 L1089.92 341.7 L1091.38 343.37 L1092.83 344.99 L1094.28 346.57 L1095.74 348.12 L1097.19 349.63 L1098.65 351.1 L1100.1 352.54 L1101.56 353.94 L1103.01 355.3 L1104.47 356.63 L1105.92 357.91 L1107.38 359.16 L1108.83 360.37 L1110.29 361.54 L1111.74 362.67 L1113.19 363.76 L1114.65 364.82 L1116.1 365.83 L1117.56 366.81 L1119.01 367.76 L1120.47 368.67 L1121.92 369.54 L1123.38 370.38 L1124.83 371.19 L1126.29 371.98 L1127.74 372.74 L1129.2 373.48 L1130.65 374.2 L1132.11 374.89 L1133.56 375.56 L1135.01 376.21 L1136.47 376.84 L1137.92 377.45 L1139.38 378.04 L1140.83 378.61 L1142.29 379.16 L1143.74 379.7 L1145.2 380.21 L1146.65 380.71 L1148.11 381.19 L1149.56 381.65 L1151.02 382.1 L1152.47 382.53 L1153.92 382.95 L1155.38 383.35 L1156.83 383.75 L1158.29 384.13 L1159.74 384.51 L1161.2 384.87 L1162.65 385.22 L1164.11 385.56 L1165.56 385.9 L1167.02 386.22 L1168.47 386.54 L1169.93 386.85 L1171.38 387.14 L1172.83 387.44 L1174.29 387.72 L1175.74 388 L1177.2 388.27 L1178.65 388.53 L1180.11 388.78 L1181.56 389.03 L1183.02 389.28 L1184.47 389.51 L1185.93 389.75 L1187.38 389.97 L1188.84 390.19 L1190.29 390.41 L1191.74 390.62 L1193.2 390.82 L1194.65 391.02 L1196.11 391.22 L1197.56 391.41 L1199.02 391.6 L1200.47 391.78 L1201.93 391.96 L1203.38 392.14 L1204.84 392.31 L1206.29 392.47 L1207.75 392.64 L1209.2 392.8 L1212.59 393.16 L1215.99 393.5 L1219.38 393.83 L1222.78 394.14 L1226.17 394.43 L1229.56 394.71 L1232.96 394.97 L1236.35 395.23 L1239.75 395.47 L1243.14 395.69 L1246.54 395.91 L1249.93 396.12 L1253.32 396.31 L1256.72 396.5 L1260.11 396.67 L1263.51 396.84 L1266.9 397 L1270.29 397.15 L1273.69 397.3 L1277.08 397.44 L1280.48 397.57 L1283.87 397.7 L1287.26 397.82 L1290.66 397.94 L1294.05 398.05 L1297.45 398.16 L1300.84 398.26 L1304.24 398.35 L1307.63 398.44 L1311.02 398.53 L1314.42 398.61 L1317.81 398.69 L1321.21 398.76 L1324.6 398.83 L1327.99 398.9 L1331.39 398.96 L1334.78 399.02 L1338.18 399.08 L1341.57 399.13 L1344.96 399.19 L1348.36 399.24 L1351.75 399.29 L1355.15 399.33 L1358.54 399.38 L1361.94 399.42 L1365.33 399.47 L1368.72 399.51 L1372.12 399.55 L1375.51 399.59 L1378.91 399.62 L1382.3 399.66 L1385.69 399.7 L1389.09 399.73 L1392.48 399.76 L1395.88 399.79 L1399.27 399.82 L1402.66 399.85 L1406.06 399.88 L1409.45 399.91 L1412.85 399.94 L1416.24 399.96 L1419.64 399.99 L1423.03 400.01 L1426.42 400.03 L1429.82 400.06 L1433.21 400.08 L1436.61 400.1 L1440 400.12 L1443.39 400.14 L1446.79 400.16 L1450.18 400.18 L1453.58 400.2 L1456.97 400.22 L1460.36 400.24 L1463.76 400.26 L1467.15 400.27 L1470.55 400.29 L1473.94 400.31 L1477.34 400.32 L1480.73 400.34 L1484.12 400.35 L1487.52 400.37 L1490.91 400.38 L1494.31 400.4 L1497.7 400.41 L1501.09 400.43 L1504.49 400.44 L1507.88 400.45 L1511.28 400.47 L1514.67 400.48 L1518.06 400.49 L1521.46 400.5 L1524.85 400.51 L1528.25 400.52 L1531.64 400.53 L1535.04 400.55 L1538.43 400.56 L1541.82 400.57 L1545.22 400.58 L1548.61 400.59 L1552.01 400.59 L1555.4 400.6 L1558.79 400.61 L1562.19 400.62 L1565.58 400.63 L1568.98 400.64 L1572.37 400.65 L1575.76 400.65 L1579.16 400.66 L1582.55 400.67 L1585.95 400.68 L1589.34 400.68 L1592.74 400.69 L1596.13 400.7 L1599.52 400.7 L1602.92 400.71 L1606.31 400.71 L1609.71 400.72 L1613.1 400.73" fill="none" stroke="#1e6b12" stroke-width="2.45" stroke-linejoin="round" stroke-linecap="round"/>
<path d="M1036.1 50.67 L1037.55 62.01 L1039.01 72.92 L1040.46 83.42 L1041.92 93.52 L1043.37 103.24 L1044.83 112.6 L1046.28 121.61 L1047.74 130.29 L1049.19 138.64 L1050.65 146.68 L1052.1 154.42 L1053.56 161.88 L1055.01 169.07 L1056.46 175.99 L1057.92 182.65 L1059.37 189.08 L1060.83 195.27 L1062.28 201.23 L1063.74 206.98 L1065.19 212.52 L1066.65 217.84 L1068.1 222.94 L1069.56 227.85 L1071.01 232.57 L1072.47 237.12 L1073.92 241.51 L1075.37 245.75 L1076.83 249.85 L1078.28 253.82 L1079.74 257.68 L1081.19 261.42 L1082.65 265.06 L1084.1 268.61 L1085.56 272.06 L1087.01 275.44 L1088.47 278.73 L1089.92 281.96 L1091.38 285.12 L1092.83 288.21 L1094.28 291.25 L1095.74 294.22 L1097.19 297.11 L1098.65 299.94 L1100.1 302.69 L1101.56 305.37 L1103.01 307.98 L1104.47 310.52 L1105.92 313 L1107.38 315.41 L1108.83 317.76 L1110.29 320.04 L1111.74 322.25 L1113.19 324.41 L1114.65 326.51 L1116.1 328.54 L1117.56 330.52 L1119.01 332.44 L1120.47 334.3 L1121.92 336.11 L1123.38 337.87 L1124.83 339.59 L1126.29 341.27 L1127.74 342.92 L1129.2 344.52 L1130.65 346.08 L1132.11 347.6 L1133.56 349.07 L1135.01 350.51 L1136.47 351.89 L1137.92 353.24 L1139.38 354.54 L1140.83 355.8 L1142.29 357.01 L1143.74 358.18 L1145.2 359.31 L1146.65 360.4 L1148.11 361.44 L1149.56 362.44 L1151.02 363.4 L1152.47 364.32 L1153.92 365.22 L1155.38 366.09 L1156.83 366.94 L1158.29 367.76 L1159.74 368.56 L1161.2 369.33 L1162.65 370.09 L1164.11 370.82 L1165.56 371.53 L1167.02 372.22 L1168.47 372.89 L1169.93 373.55 L1171.38 374.18 L1172.83 374.8 L1174.29 375.4 L1175.74 375.98 L1177.2 376.55 L1178.65 377.1 L1180.11 377.63 L1181.56 378.15 L1183.02 378.66 L1184.47 379.15 L1185.93 379.62 L1187.38 380.09 L1188.84 380.54 L1190.29 380.98 L1191.74 381.41 L1193.2 381.82 L1194.65 382.22 L1196.11 382.61 L1197.56 383 L1199.02 383.37 L1200.47 383.73 L1201.93 384.08 L1203.38 384.42 L1204.84 384.75 L1206.29 385.07 L1207.75 385.38 L1209.2 385.69 L1212.59 386.37 L1215.99 387.01 L1219.38 387.61 L1222.78 388.18 L1226.17 388.71 L1229.56 389.22 L1232.96 389.7 L1236.35 390.15 L1239.75 390.58 L1243.14 390.99 L1246.54 391.38 L1249.93 391.75 L1253.32 392.1 L1256.72 392.43 L1260.11 392.75 L1263.51 393.05 L1266.9 393.34 L1270.29 393.61 L1273.69 393.88 L1277.08 394.13 L1280.48 394.37 L1283.87 394.6 L1287.26 394.83 L1290.66 395.04 L1294.05 395.24 L1297.45 395.43 L1300.84 395.62 L1304.24 395.79 L1307.63 395.96 L1311.02 396.12 L1314.42 396.27 L1317.81 396.41 L1321.21 396.55 L1324.6 396.68 L1327.99 396.8 L1331.39 396.92 L1334.78 397.03 L1338.18 397.14 L1341.57 397.25 L1344.96 397.35 L1348.36 397.45 L1351.75 397.54 L1355.15 397.63 L1358.54 397.72 L1361.94 397.8 L1365.33 397.89 L1368.72 397.97 L1372.12 398.04 L1375.51 398.12 L1378.91 398.19 L1382.3 398.26 L1385.69 398.32 L1389.09 398.39 L1392.48 398.45 L1395.88 398.51 L1399.27 398.57 L1402.66 398.63 L1406.06 398.68 L1409.45 398.74 L1412.85 398.79 L1416.24 398.84 L1419.64 398.89 L1423.03 398.94 L1426.42 398.98 L1429.82 399.03 L1433.21 399.07 L1436.61 399.11 L1440 399.15 L1443.39 399.19 L1446.79 399.23 L1450.18 399.27 L1453.58 399.31 L1456.97 399.34 L1460.36 399.38 L1463.76 399.42 L1467.15 399.45 L1470.55 399.48 L1473.94 399.51 L1477.34 399.55 L1480.73 399.58 L1484.12 399.61 L1487.52 399.64 L1490.91 399.67 L1494.31 399.69 L1497.7 399.72 L1501.09 399.75 L1504.49 399.77 L1507.88 399.8 L1511.28 399.82 L1514.67 399.85 L1518.06 399.87 L1521.46 399.89 L1524.85 399.92 L1528.25 399.94 L1531.64 399.96 L1535.04 399.98 L1538.43 400 L1541.82 400.02 L1545.22 400.04 L1548.61 400.06 L1552.01 400.08 L1555.4 400.1 L1558.79 400.11 L1562.19 400.13 L1565.58 400.15 L1568.98 400.16 L1572.37 400.18 L1575.76 400.19 L1579.16 400.21 L1582.55 400.22 L1585.95 400.24 L1589.34 400.25 L1592.74 400.26 L1596.13 400.28 L1599.52 400.29 L1602.92 400.3 L1606.31 400.31 L1609.71 400.33 L1613.1 400.34" fill="none" stroke="#641eaa" stroke-width="2.35" stroke-linejoin="round" stroke-linecap="round"/>
<text x="1382.2" y="488.4" font-size="35" text-anchor="middle" font-weight="bold"><tspan font-style="italic">x/L</tspan> ratio</text>
<text transform="translate(935.1 208.1) rotate(-90)" font-size="35" text-anchor="middle" font-weight="bold"><tspan font-style="italic">P</tspan><tspan font-style="italic" font-size="21.5" dy="7.6">M</tspan><tspan dy="-7.6"> (Pa)</tspan></text>
<line x1="1498.1" y1="216.9" x2="1546.4" y2="216.9" stroke="#0000ff" stroke-width="2.6" stroke-linecap="round"/>
<text transform="translate(1551.6 224.3) scale(0.990 1)" font-size="21" text-anchor="start" font-weight="normal" font-style="normal">0.05 L/s, 3.06 bar</text>
<line x1="1498.1" y1="256.6" x2="1546.4" y2="256.6" stroke="#ff0000" stroke-width="2.6" stroke-linecap="round"/>
<text transform="translate(1551.6 264) scale(0.990 1)" font-size="21" text-anchor="start" font-weight="normal" font-style="normal">0.15 L/s, 3.00 bar</text>
<line x1="1498.1" y1="296.6" x2="1546.4" y2="296.6" stroke="#000000" stroke-width="2.5" stroke-linecap="round"/>
<text transform="translate(1551.6 304) scale(0.990 1)" font-size="21" text-anchor="start" font-weight="normal" font-style="normal">0.25 L/s, 2.92 bar</text>
<line x1="1498.1" y1="337.4" x2="1546.4" y2="337.4" stroke="#1e6b12" stroke-width="2.45" stroke-linecap="round"/>
<text transform="translate(1551.6 344.8) scale(0.990 1)" font-size="21" text-anchor="start" font-weight="normal" font-style="normal">0.35 L/s, 2.48 bar</text>
<line x1="1498.1" y1="377.5" x2="1546.4" y2="377.5" stroke="#641eaa" stroke-width="2.35" stroke-linecap="round"/>
<text transform="translate(1551.6 384.9) scale(0.990 1)" font-size="21" text-anchor="start" font-weight="normal" font-style="normal">0.45 L/s, 2.34 bar</text>
<text transform="translate(1670.4 55.7) scale(1.000 1)" font-size="39.5" text-anchor="start" font-weight="bold" font-style="normal">(b)</text>
<rect x="128.2" y="555.4" width="693.9" height="387.2" fill="none" stroke="#000" stroke-width="2.25"/>
<line x1="128.2" y1="942.6" x2="128.2" y2="951.2" stroke="#000" stroke-width="2.1" stroke-linecap="butt"/>
<text transform="translate(128.2 985.4) scale(0.915 1)" font-size="30.4" text-anchor="middle" font-weight="normal" font-style="normal">0</text>
<line x1="243.85" y1="942.6" x2="243.85" y2="951.2" stroke="#000" stroke-width="2.1" stroke-linecap="butt"/>
<text transform="translate(243.85 985.4) scale(0.915 1)" font-size="30.4" text-anchor="middle" font-weight="normal" font-style="normal">0.2</text>
<line x1="359.5" y1="942.6" x2="359.5" y2="951.2" stroke="#000" stroke-width="2.1" stroke-linecap="butt"/>
<text transform="translate(359.5 985.4) scale(0.915 1)" font-size="30.4" text-anchor="middle" font-weight="normal" font-style="normal">0.4</text>
<line x1="475.15" y1="942.6" x2="475.15" y2="951.2" stroke="#000" stroke-width="2.1" stroke-linecap="butt"/>
<text transform="translate(475.15 985.4) scale(0.915 1)" font-size="30.4" text-anchor="middle" font-weight="normal" font-style="normal">0.6</text>
<line x1="590.8" y1="942.6" x2="590.8" y2="951.2" stroke="#000" stroke-width="2.1" stroke-linecap="butt"/>
<text transform="translate(590.8 985.4) scale(0.915 1)" font-size="30.4" text-anchor="middle" font-weight="normal" font-style="normal">0.8</text>
<line x1="706.45" y1="942.6" x2="706.45" y2="951.2" stroke="#000" stroke-width="2.1" stroke-linecap="butt"/>
<text transform="translate(706.45 985.4) scale(0.915 1)" font-size="30.4" text-anchor="middle" font-weight="normal" font-style="normal">1</text>
<line x1="822.1" y1="942.6" x2="822.1" y2="951.2" stroke="#000" stroke-width="2.1" stroke-linecap="butt"/>
<text transform="translate(822.1 985.4) scale(0.915 1)" font-size="30.4" text-anchor="middle" font-weight="normal" font-style="normal">1.2</text>
<line x1="119.4" y1="942.6" x2="128.2" y2="942.6" stroke="#000" stroke-width="2.1" stroke-linecap="butt"/>
<text transform="translate(104.4 951.6) scale(0.915 1)" font-size="30.4" text-anchor="end" font-weight="normal" font-style="normal">0</text>
<line x1="119.4" y1="878.07" x2="128.2" y2="878.07" stroke="#000" stroke-width="2.1" stroke-linecap="butt"/>
<text transform="translate(104.4 887.07) scale(0.915 1)" font-size="30.4" text-anchor="end" font-weight="normal" font-style="normal">200</text>
<line x1="119.4" y1="813.53" x2="128.2" y2="813.53" stroke="#000" stroke-width="2.1" stroke-linecap="butt"/>
<text transform="translate(104.4 822.53) scale(0.915 1)" font-size="30.4" text-anchor="end" font-weight="normal" font-style="normal">400</text>
<line x1="119.4" y1="749" x2="128.2" y2="749" stroke="#000" stroke-width="2.1" stroke-linecap="butt"/>
<text transform="translate(104.4 758) scale(0.915 1)" font-size="30.4" text-anchor="end" font-weight="normal" font-style="normal">600</text>
<line x1="119.4" y1="684.47" x2="128.2" y2="684.47" stroke="#000" stroke-width="2.1" stroke-linecap="butt"/>
<text transform="translate(104.4 693.47) scale(0.915 1)" font-size="30.4" text-anchor="end" font-weight="normal" font-style="normal">800</text>
<line x1="119.4" y1="619.93" x2="128.2" y2="619.93" stroke="#000" stroke-width="2.1" stroke-linecap="butt"/>
<text transform="translate(104.4 628.93) scale(0.915 1)" font-size="30.4" text-anchor="end" font-weight="normal" font-style="normal">1000</text>
<line x1="119.4" y1="555.4" x2="128.2" y2="555.4" stroke="#000" stroke-width="2.1" stroke-linecap="butt"/>
<text transform="translate(104.4 564.4) scale(0.915 1)" font-size="30.4" text-anchor="end" font-weight="normal" font-style="normal">1200</text>
<path d="M128.2 898.72 L129.95 899.33 L131.7 899.94 L133.46 900.53 L135.21 901.1 L136.96 901.67 L138.71 902.22 L140.47 902.75 L142.22 903.28 L143.97 903.8 L145.72 904.3 L147.47 904.8 L149.23 905.28 L150.98 905.75 L152.73 906.22 L154.48 906.67 L156.24 907.12 L157.99 907.55 L159.74 907.98 L161.49 908.4 L163.25 908.81 L165 909.21 L166.75 909.6 L168.5 909.99 L170.25 910.37 L172.01 910.74 L173.76 911.11 L175.51 911.47 L177.26 911.82 L179.02 912.16 L180.77 912.5 L182.52 912.84 L184.27 913.16 L186.03 913.48 L187.78 913.8 L189.53 914.11 L191.28 914.41 L193.03 914.71 L194.79 915.01 L196.54 915.3 L198.29 915.58 L200.04 915.86 L201.8 916.13 L203.55 916.4 L205.3 916.67 L207.05 916.93 L208.8 917.19 L210.56 917.44 L212.31 917.69 L214.06 917.93 L215.81 918.17 L217.57 918.41 L219.32 918.64 L221.07 918.87 L222.82 919.1 L224.57 919.32 L226.33 919.54 L228.08 919.75 L229.83 919.96 L231.58 920.17 L233.34 920.38 L235.09 920.58 L236.84 920.78 L238.59 920.98 L240.35 921.17 L242.1 921.36 L243.85 921.55 L245.6 921.74 L247.35 921.92 L249.11 922.1 L250.86 922.28 L252.61 922.45 L254.36 922.62 L256.12 922.79 L257.87 922.96 L259.62 923.13 L261.37 923.29 L263.12 923.45 L264.88 923.61 L266.63 923.77 L268.38 923.92 L270.13 924.07 L271.89 924.22 L273.64 924.37 L275.39 924.52 L277.14 924.66 L278.9 924.81 L280.65 924.95 L282.4 925.09 L284.15 925.22 L285.9 925.36 L287.66 925.49 L289.41 925.63 L291.16 925.76 L292.91 925.88 L294.67 926.01 L296.42 926.14 L298.17 926.26 L299.92 926.38 L301.68 926.5 L305.76 926.78 L309.85 927.05 L313.94 927.31 L318.03 927.57 L322.12 927.81 L326.21 928.05 L330.3 928.29 L334.38 928.52 L338.47 928.74 L342.56 928.95 L346.65 929.17 L350.74 929.37 L354.83 929.57 L358.92 929.77 L363 929.96 L367.09 930.15 L371.18 930.33 L375.27 930.5 L379.36 930.68 L383.45 930.85 L387.54 931.01 L391.62 931.17 L395.71 931.33 L399.8 931.49 L403.89 931.64 L407.98 931.79 L412.07 931.93 L416.16 932.07 L420.25 932.21 L424.33 932.34 L428.42 932.48 L432.51 932.61 L436.6 932.73 L440.69 932.86 L444.78 932.98 L448.87 933.1 L452.95 933.22 L457.04 933.33 L461.13 933.44 L465.22 933.55 L469.31 933.66 L473.4 933.77 L477.49 933.87 L481.58 933.97 L485.66 934.07 L489.75 934.17 L493.84 934.26 L497.93 934.36 L502.02 934.45 L506.11 934.54 L510.2 934.63 L514.28 934.72 L518.37 934.81 L522.46 934.89 L526.55 934.97 L530.64 935.05 L534.73 935.13 L538.82 935.21 L542.9 935.29 L546.99 935.37 L551.08 935.44 L555.17 935.52 L559.26 935.59 L563.35 935.66 L567.44 935.73 L571.53 935.8 L575.61 935.86 L579.7 935.93 L583.79 936 L587.88 936.06 L591.97 936.12 L596.06 936.19 L600.15 936.25 L604.23 936.31 L608.32 936.37 L612.41 936.43 L616.5 936.48 L620.59 936.54 L624.68 936.6 L628.77 936.65 L632.85 936.71 L636.94 936.76 L641.03 936.81 L645.12 936.86 L649.21 936.92 L653.3 936.97 L657.39 937.02 L661.48 937.06 L665.56 937.11 L669.65 937.16 L673.74 937.21 L677.83 937.25 L681.92 937.3 L686.01 937.34 L690.1 937.39 L694.18 937.43 L698.27 937.48 L702.36 937.52 L706.45 937.56" fill="none" stroke="#0000ff" stroke-width="2.6" stroke-linejoin="round" stroke-linecap="round"/>
<path d="M128.2 859.03 L129.95 860.21 L131.7 861.35 L133.46 862.48 L135.21 863.57 L136.96 864.64 L138.71 865.69 L140.47 866.72 L142.22 867.72 L143.97 868.7 L145.72 869.66 L147.47 870.6 L149.23 871.52 L150.98 872.42 L152.73 873.3 L154.48 874.16 L156.24 875.01 L157.99 875.83 L159.74 876.64 L161.49 877.44 L163.25 878.22 L165 878.98 L166.75 879.73 L168.5 880.46 L170.25 881.18 L172.01 881.89 L173.76 882.58 L175.51 883.26 L177.26 883.93 L179.02 884.58 L180.77 885.23 L182.52 885.86 L184.27 886.48 L186.03 887.09 L187.78 887.68 L189.53 888.27 L191.28 888.85 L193.03 889.41 L194.79 889.97 L196.54 890.52 L198.29 891.05 L200.04 891.58 L201.8 892.1 L203.55 892.61 L205.3 893.11 L207.05 893.61 L208.8 894.09 L210.56 894.57 L212.31 895.04 L214.06 895.5 L215.81 895.96 L217.57 896.41 L219.32 896.85 L221.07 897.28 L222.82 897.71 L224.57 898.13 L226.33 898.54 L228.08 898.95 L229.83 899.35 L231.58 899.74 L233.34 900.13 L235.09 900.52 L236.84 900.89 L238.59 901.27 L240.35 901.63 L242.1 901.99 L243.85 902.35 L245.6 902.7 L247.35 903.05 L249.11 903.39 L250.86 903.72 L252.61 904.05 L254.36 904.38 L256.12 904.7 L257.87 905.02 L259.62 905.33 L261.37 905.64 L263.12 905.95 L264.88 906.25 L266.63 906.54 L268.38 906.83 L270.13 907.12 L271.89 907.41 L273.64 907.69 L275.39 907.96 L277.14 908.24 L278.9 908.51 L280.65 908.77 L282.4 909.04 L284.15 909.3 L285.9 909.55 L287.66 909.81 L289.41 910.06 L291.16 910.3 L292.91 910.55 L294.67 910.79 L296.42 911.02 L298.17 911.26 L299.92 911.49 L301.68 911.72 L305.76 912.24 L309.85 912.75 L313.94 913.24 L318.03 913.73 L322.12 914.19 L326.21 914.65 L330.3 915.09 L334.38 915.52 L338.47 915.95 L342.56 916.36 L346.65 916.76 L350.74 917.15 L354.83 917.53 L358.92 917.9 L363 918.26 L367.09 918.61 L371.18 918.96 L375.27 919.29 L379.36 919.62 L383.45 919.94 L387.54 920.25 L391.62 920.56 L395.71 920.86 L399.8 921.15 L403.89 921.44 L407.98 921.72 L412.07 921.99 L416.16 922.26 L420.25 922.52 L424.33 922.78 L428.42 923.03 L432.51 923.28 L436.6 923.52 L440.69 923.75 L444.78 923.98 L448.87 924.21 L452.95 924.43 L457.04 924.65 L461.13 924.86 L465.22 925.07 L469.31 925.28 L473.4 925.48 L477.49 925.68 L481.58 925.87 L485.66 926.06 L489.75 926.25 L493.84 926.43 L497.93 926.61 L502.02 926.78 L506.11 926.96 L510.2 927.13 L514.28 927.29 L518.37 927.46 L522.46 927.62 L526.55 927.78 L530.64 927.93 L534.73 928.08 L538.82 928.23 L542.9 928.38 L546.99 928.53 L551.08 928.67 L555.17 928.81 L559.26 928.95 L563.35 929.08 L567.44 929.22 L571.53 929.35 L575.61 929.48 L579.7 929.6 L583.79 929.73 L587.88 929.85 L591.97 929.97 L596.06 930.09 L600.15 930.21 L604.23 930.32 L608.32 930.44 L612.41 930.55 L616.5 930.66 L620.59 930.77 L624.68 930.87 L628.77 930.98 L632.85 931.08 L636.94 931.19 L641.03 931.29 L645.12 931.39 L649.21 931.48 L653.3 931.58 L657.39 931.67 L661.48 931.77 L665.56 931.86 L669.65 931.95 L673.74 932.04 L677.83 932.13 L681.92 932.22 L686.01 932.3 L690.1 932.39 L694.18 932.47 L698.27 932.55 L702.36 932.64 L706.45 932.72" fill="none" stroke="#ff0000" stroke-width="2.6" stroke-linejoin="round" stroke-linecap="round"/>
<path d="M128.2 783.53 L129.95 785.85 L131.7 788.12 L133.46 790.34 L135.21 792.49 L136.96 794.6 L138.71 796.65 L140.47 798.65 L142.22 800.61 L143.97 802.51 L145.72 804.38 L147.47 806.2 L149.23 807.97 L150.98 809.71 L152.73 811.41 L154.48 813.07 L156.24 814.69 L157.99 816.28 L159.74 817.84 L161.49 819.36 L163.25 820.84 L165 822.3 L166.75 823.72 L168.5 825.12 L170.25 826.49 L172.01 827.83 L173.76 829.14 L175.51 830.43 L177.26 831.69 L179.02 832.92 L180.77 834.14 L182.52 835.32 L184.27 836.49 L186.03 837.63 L187.78 838.75 L189.53 839.85 L191.28 840.94 L193.03 842 L194.79 843.04 L196.54 844.06 L198.29 845.06 L200.04 846.05 L201.8 847.02 L203.55 847.97 L205.3 848.9 L207.05 849.82 L208.8 850.72 L210.56 851.61 L212.31 852.48 L214.06 853.34 L215.81 854.19 L217.57 855.02 L219.32 855.83 L221.07 856.63 L222.82 857.42 L224.57 858.2 L226.33 858.96 L228.08 859.72 L229.83 860.46 L231.58 861.19 L233.34 861.9 L235.09 862.61 L236.84 863.3 L238.59 863.99 L240.35 864.66 L242.1 865.33 L243.85 865.98 L245.6 866.63 L247.35 867.26 L249.11 867.89 L250.86 868.51 L252.61 869.11 L254.36 869.71 L256.12 870.3 L257.87 870.88 L259.62 871.46 L261.37 872.02 L263.12 872.58 L264.88 873.13 L266.63 873.67 L268.38 874.21 L270.13 874.74 L271.89 875.26 L273.64 875.77 L275.39 876.28 L277.14 876.78 L278.9 877.27 L280.65 877.76 L282.4 878.24 L284.15 878.71 L285.9 879.18 L287.66 879.64 L289.41 880.1 L291.16 880.55 L292.91 881 L294.67 881.43 L296.42 881.87 L298.17 882.3 L299.92 882.72 L301.68 883.14 L305.76 884.09 L309.85 885.02 L313.94 885.92 L318.03 886.8 L322.12 887.65 L326.21 888.49 L330.3 889.29 L334.38 890.08 L338.47 890.85 L342.56 891.6 L346.65 892.33 L350.74 893.04 L354.83 893.73 L358.92 894.41 L363 895.07 L367.09 895.71 L371.18 896.34 L375.27 896.96 L379.36 897.56 L383.45 898.14 L387.54 898.72 L391.62 899.28 L395.71 899.82 L399.8 900.36 L403.89 900.88 L407.98 901.4 L412.07 901.9 L416.16 902.39 L420.25 902.87 L424.33 903.34 L428.42 903.8 L432.51 904.25 L436.6 904.69 L440.69 905.12 L444.78 905.55 L448.87 905.97 L452.95 906.37 L457.04 906.77 L461.13 907.16 L465.22 907.55 L469.31 907.93 L473.4 908.3 L477.49 908.66 L481.58 909.02 L485.66 909.37 L489.75 909.71 L493.84 910.05 L497.93 910.38 L502.02 910.7 L506.11 911.02 L510.2 911.34 L514.28 911.65 L518.37 911.95 L522.46 912.25 L526.55 912.54 L530.64 912.83 L534.73 913.11 L538.82 913.39 L542.9 913.66 L546.99 913.93 L551.08 914.2 L555.17 914.46 L559.26 914.71 L563.35 914.97 L567.44 915.21 L571.53 915.46 L575.61 915.7 L579.7 915.94 L583.79 916.17 L587.88 916.4 L591.97 916.63 L596.06 916.85 L600.15 917.07 L604.23 917.28 L608.32 917.5 L612.41 917.71 L616.5 917.91 L620.59 918.12 L624.68 918.32 L628.77 918.51 L632.85 918.71 L636.94 918.9 L641.03 919.09 L645.12 919.28 L649.21 919.46 L653.3 919.64 L657.39 919.82 L661.48 920 L665.56 920.17 L669.65 920.35 L673.74 920.52 L677.83 920.68 L681.92 920.85 L686.01 921.01 L690.1 921.17 L694.18 921.33 L698.27 921.49 L702.36 921.64 L706.45 921.79" fill="none" stroke="#000000" stroke-width="2.5" stroke-linejoin="round" stroke-linecap="round"/>
<path d="M128.2 726.41 L129.95 729.51 L131.7 732.53 L133.46 735.48 L135.21 738.36 L136.96 741.16 L138.71 743.91 L140.47 746.58 L142.22 749.2 L143.97 751.75 L145.72 754.25 L147.47 756.69 L149.23 759.07 L150.98 761.4 L152.73 763.68 L154.48 765.91 L156.24 768.1 L157.99 770.23 L159.74 772.33 L161.49 774.37 L163.25 776.38 L165 778.34 L166.75 780.27 L168.5 782.15 L170.25 784 L172.01 785.81 L173.76 787.58 L175.51 789.32 L177.26 791.03 L179.02 792.7 L180.77 794.34 L182.52 795.95 L184.27 797.53 L186.03 799.08 L187.78 800.6 L189.53 802.1 L191.28 803.56 L193.03 805 L194.79 806.42 L196.54 807.81 L198.29 809.17 L200.04 810.51 L201.8 811.83 L203.55 813.12 L205.3 814.4 L207.05 815.65 L208.8 816.88 L210.56 818.09 L212.31 819.28 L214.06 820.45 L215.81 821.6 L217.57 822.73 L219.32 823.84 L221.07 824.94 L222.82 826.01 L224.57 827.07 L226.33 828.12 L228.08 829.14 L229.83 830.16 L231.58 831.15 L233.34 832.13 L235.09 833.1 L236.84 834.05 L238.59 834.99 L240.35 835.91 L242.1 836.82 L243.85 837.71 L245.6 838.6 L247.35 839.47 L249.11 840.32 L250.86 841.17 L252.61 842 L254.36 842.82 L256.12 843.63 L257.87 844.43 L259.62 845.22 L261.37 845.99 L263.12 846.76 L264.88 847.51 L266.63 848.25 L268.38 848.99 L270.13 849.71 L271.89 850.43 L273.64 851.13 L275.39 851.83 L277.14 852.51 L278.9 853.19 L280.65 853.86 L282.4 854.52 L284.15 855.17 L285.9 855.82 L287.66 856.45 L289.41 857.08 L291.16 857.7 L292.91 858.31 L294.67 858.91 L296.42 859.51 L298.17 860.1 L299.92 860.68 L301.68 861.25 L305.76 862.56 L309.85 863.84 L313.94 865.08 L318.03 866.29 L322.12 867.47 L326.21 868.61 L330.3 869.72 L334.38 870.81 L338.47 871.87 L342.56 872.9 L346.65 873.9 L350.74 874.88 L354.83 875.84 L358.92 876.77 L363 877.68 L367.09 878.57 L371.18 879.43 L375.27 880.28 L379.36 881.11 L383.45 881.92 L387.54 882.71 L391.62 883.48 L395.71 884.23 L399.8 884.97 L403.89 885.69 L407.98 886.4 L412.07 887.09 L416.16 887.77 L420.25 888.43 L424.33 889.08 L428.42 889.72 L432.51 890.34 L436.6 890.95 L440.69 891.54 L444.78 892.13 L448.87 892.7 L452.95 893.27 L457.04 893.82 L461.13 894.36 L465.22 894.89 L469.31 895.41 L473.4 895.92 L477.49 896.42 L481.58 896.91 L485.66 897.39 L489.75 897.87 L493.84 898.33 L497.93 898.79 L502.02 899.24 L506.11 899.68 L510.2 900.11 L514.28 900.54 L518.37 900.96 L522.46 901.37 L526.55 901.77 L530.64 902.17 L534.73 902.56 L538.82 902.94 L542.9 903.32 L546.99 903.69 L551.08 904.06 L555.17 904.42 L559.26 904.77 L563.35 905.12 L567.44 905.46 L571.53 905.8 L575.61 906.13 L579.7 906.45 L583.79 906.77 L587.88 907.09 L591.97 907.4 L596.06 907.71 L600.15 908.01 L604.23 908.31 L608.32 908.6 L612.41 908.89 L616.5 909.18 L620.59 909.46 L624.68 909.73 L628.77 910 L632.85 910.27 L636.94 910.54 L641.03 910.8 L645.12 911.06 L649.21 911.31 L653.3 911.56 L657.39 911.81 L661.48 912.05 L665.56 912.29 L669.65 912.53 L673.74 912.76 L677.83 912.99 L681.92 913.22 L686.01 913.44 L690.1 913.66 L694.18 913.88 L698.27 914.09 L702.36 914.31 L706.45 914.52" fill="none" stroke="#1e6b12" stroke-width="2.45" stroke-linejoin="round" stroke-linecap="round"/>
<text x="475.05" y="1031.9" font-size="35" text-anchor="middle" font-weight="bold"><tspan font-style="italic">x/L</tspan> ratio</text>
<text transform="translate(27.9 748.9) rotate(-90)" font-size="35" text-anchor="middle" font-weight="bold"><tspan font-style="italic">f</tspan><tspan font-style="italic" font-size="21.5" dy="7.6">T</tspan><tspan dy="-7.6"> (1/s)</tspan></text>
<line x1="590.1" y1="575.6" x2="638.1" y2="575.6" stroke="#0000ff" stroke-width="2.6" stroke-linecap="round"/>
<text transform="translate(643 583) scale(0.990 1)" font-size="21" text-anchor="start" font-weight="normal" font-style="normal">0.05 L/s, 1.24 bar</text>
<line x1="590.1" y1="615.2" x2="638.1" y2="615.2" stroke="#ff0000" stroke-width="2.6" stroke-linecap="round"/>
<text transform="translate(643 622.6) scale(0.990 1)" font-size="21" text-anchor="start" font-weight="normal" font-style="normal">0.10 L/s, 1.20 bar</text>
<line x1="590.1" y1="655.1" x2="638.1" y2="655.1" stroke="#000000" stroke-width="2.5" stroke-linecap="round"/>
<text transform="translate(643 662.5) scale(0.990 1)" font-size="21" text-anchor="start" font-weight="normal" font-style="normal">0.20 L/s, 1.08 bar</text>
<line x1="590.1" y1="696" x2="638.1" y2="696" stroke="#1e6b12" stroke-width="2.45" stroke-linecap="round"/>
<text transform="translate(643 703.4) scale(0.990 1)" font-size="21" text-anchor="start" font-weight="normal" font-style="normal">0.25 L/s, 1.06 bar</text>
<text transform="translate(138.1 596.8) scale(1.000 1)" font-size="39.5" text-anchor="start" font-weight="bold" font-style="normal">(c)</text>
<rect x="1034.9" y="556" width="693.3" height="386.6" fill="none" stroke="#000" stroke-width="2.25"/>
<line x1="1034.9" y1="942.6" x2="1034.9" y2="951.2" stroke="#000" stroke-width="2.1" stroke-linecap="butt"/>
<text transform="translate(1034.9 985.4) scale(0.915 1)" font-size="30.4" text-anchor="middle" font-weight="normal" font-style="normal">0</text>
<line x1="1150.45" y1="942.6" x2="1150.45" y2="951.2" stroke="#000" stroke-width="2.1" stroke-linecap="butt"/>
<text transform="translate(1150.45 985.4) scale(0.915 1)" font-size="30.4" text-anchor="middle" font-weight="normal" font-style="normal">0.2</text>
<line x1="1266" y1="942.6" x2="1266" y2="951.2" stroke="#000" stroke-width="2.1" stroke-linecap="butt"/>
<text transform="translate(1266 985.4) scale(0.915 1)" font-size="30.4" text-anchor="middle" font-weight="normal" font-style="normal">0.4</text>
<line x1="1381.55" y1="942.6" x2="1381.55" y2="951.2" stroke="#000" stroke-width="2.1" stroke-linecap="butt"/>
<text transform="translate(1381.55 985.4) scale(0.915 1)" font-size="30.4" text-anchor="middle" font-weight="normal" font-style="normal">0.6</text>
<line x1="1497.1" y1="942.6" x2="1497.1" y2="951.2" stroke="#000" stroke-width="2.1" stroke-linecap="butt"/>
<text transform="translate(1497.1 985.4) scale(0.915 1)" font-size="30.4" text-anchor="middle" font-weight="normal" font-style="normal">0.8</text>
<line x1="1612.65" y1="942.6" x2="1612.65" y2="951.2" stroke="#000" stroke-width="2.1" stroke-linecap="butt"/>
<text transform="translate(1612.65 985.4) scale(0.915 1)" font-size="30.4" text-anchor="middle" font-weight="normal" font-style="normal">1</text>
<line x1="1728.2" y1="942.6" x2="1728.2" y2="951.2" stroke="#000" stroke-width="2.1" stroke-linecap="butt"/>
<text transform="translate(1728.2 985.4) scale(0.915 1)" font-size="30.4" text-anchor="middle" font-weight="normal" font-style="normal">1.2</text>
<line x1="1026.1" y1="942.6" x2="1034.9" y2="942.6" stroke="#000" stroke-width="2.1" stroke-linecap="butt"/>
<text transform="translate(1011.1 951.6) scale(0.915 1)" font-size="30.4" text-anchor="end" font-weight="normal" font-style="normal">0</text>
<line x1="1026.1" y1="878.17" x2="1034.9" y2="878.17" stroke="#000" stroke-width="2.1" stroke-linecap="butt"/>
<text transform="translate(1011.1 887.17) scale(0.915 1)" font-size="30.4" text-anchor="end" font-weight="normal" font-style="normal">200</text>
<line x1="1026.1" y1="813.73" x2="1034.9" y2="813.73" stroke="#000" stroke-width="2.1" stroke-linecap="butt"/>
<text transform="translate(1011.1 822.73) scale(0.915 1)" font-size="30.4" text-anchor="end" font-weight="normal" font-style="normal">400</text>
<line x1="1026.1" y1="749.3" x2="1034.9" y2="749.3" stroke="#000" stroke-width="2.1" stroke-linecap="butt"/>
<text transform="translate(1011.1 758.3) scale(0.915 1)" font-size="30.4" text-anchor="end" font-weight="normal" font-style="normal">600</text>
<line x1="1026.1" y1="684.87" x2="1034.9" y2="684.87" stroke="#000" stroke-width="2.1" stroke-linecap="butt"/>
<text transform="translate(1011.1 693.87) scale(0.915 1)" font-size="30.4" text-anchor="end" font-weight="normal" font-style="normal">800</text>
<line x1="1026.1" y1="620.43" x2="1034.9" y2="620.43" stroke="#000" stroke-width="2.1" stroke-linecap="butt"/>
<text transform="translate(1011.1 629.43) scale(0.915 1)" font-size="30.4" text-anchor="end" font-weight="normal" font-style="normal">1000</text>
<line x1="1026.1" y1="556" x2="1034.9" y2="556" stroke="#000" stroke-width="2.1" stroke-linecap="butt"/>
<text transform="translate(1011.1 565) scale(0.915 1)" font-size="30.4" text-anchor="end" font-weight="normal" font-style="normal">1200</text>
<path d="M1034.9 899.24 L1036.65 899.85 L1038.4 900.46 L1040.15 901.05 L1041.9 901.62 L1043.65 902.19 L1045.4 902.74 L1047.16 903.27 L1048.91 903.8 L1050.66 904.31 L1052.41 904.82 L1054.16 905.31 L1055.91 905.79 L1057.66 906.26 L1059.41 906.72 L1061.16 907.18 L1062.91 907.62 L1064.66 908.05 L1066.41 908.48 L1068.16 908.89 L1069.92 909.3 L1071.67 909.7 L1073.42 910.09 L1075.17 910.47 L1076.92 910.85 L1078.67 911.22 L1080.42 911.58 L1082.17 911.94 L1083.92 912.28 L1085.67 912.63 L1087.42 912.96 L1089.17 913.29 L1090.92 913.61 L1092.68 913.93 L1094.43 914.24 L1096.18 914.55 L1097.93 914.85 L1099.68 915.14 L1101.43 915.43 L1103.18 915.72 L1104.93 916 L1106.68 916.27 L1108.43 916.55 L1110.18 916.81 L1111.93 917.07 L1113.68 917.33 L1115.43 917.58 L1117.19 917.83 L1118.94 918.08 L1120.69 918.32 L1122.44 918.55 L1124.19 918.79 L1125.94 919.02 L1127.69 919.24 L1129.44 919.46 L1131.19 919.68 L1132.94 919.9 L1134.69 920.11 L1136.44 920.32 L1138.19 920.52 L1139.95 920.72 L1141.7 920.92 L1143.45 921.12 L1145.2 921.31 L1146.95 921.5 L1148.7 921.69 L1150.45 921.88 L1152.2 922.06 L1153.95 922.24 L1155.7 922.41 L1157.45 922.59 L1159.2 922.76 L1160.95 922.93 L1162.71 923.1 L1164.46 923.26 L1166.21 923.42 L1167.96 923.58 L1169.71 923.74 L1171.46 923.9 L1173.21 924.05 L1174.96 924.2 L1176.71 924.35 L1178.46 924.5 L1180.21 924.64 L1181.96 924.79 L1183.71 924.93 L1185.47 925.07 L1187.22 925.21 L1188.97 925.34 L1190.72 925.48 L1192.47 925.61 L1194.22 925.74 L1195.97 925.87 L1197.72 926 L1199.47 926.12 L1201.22 926.25 L1202.97 926.37 L1204.72 926.49 L1206.47 926.61 L1208.23 926.73 L1212.31 927 L1216.4 927.27 L1220.48 927.52 L1224.57 927.77 L1228.65 928.01 L1232.74 928.25 L1236.82 928.48 L1240.91 928.7 L1244.99 928.92 L1249.08 929.13 L1253.16 929.34 L1257.25 929.54 L1261.33 929.73 L1265.42 929.93 L1269.5 930.11 L1273.59 930.29 L1277.67 930.47 L1281.76 930.65 L1285.84 930.82 L1289.93 930.98 L1294.01 931.14 L1298.1 931.3 L1302.18 931.45 L1306.27 931.61 L1310.35 931.75 L1314.44 931.9 L1318.52 932.04 L1322.61 932.18 L1326.69 932.31 L1330.78 932.44 L1334.86 932.57 L1338.95 932.7 L1343.03 932.82 L1347.12 932.95 L1351.2 933.06 L1355.29 933.18 L1359.37 933.3 L1363.46 933.41 L1367.54 933.52 L1371.63 933.63 L1375.71 933.73 L1379.8 933.83 L1383.88 933.94 L1387.97 934.03 L1392.05 934.13 L1396.14 934.23 L1400.22 934.32 L1404.31 934.41 L1408.39 934.51 L1412.48 934.59 L1416.57 934.68 L1420.65 934.77 L1424.74 934.85 L1428.82 934.93 L1432.91 935.02 L1436.99 935.1 L1441.08 935.17 L1445.16 935.25 L1449.25 935.33 L1453.33 935.4 L1457.42 935.47 L1461.5 935.55 L1465.59 935.62 L1469.67 935.69 L1473.76 935.76 L1477.84 935.82 L1481.93 935.89 L1486.01 935.95 L1490.1 936.02 L1494.18 936.08 L1498.27 936.14 L1502.35 936.2 L1506.44 936.26 L1510.52 936.32 L1514.61 936.38 L1518.69 936.44 L1522.78 936.5 L1526.86 936.55 L1530.95 936.61 L1535.03 936.66 L1539.12 936.71 L1543.2 936.77 L1547.29 936.82 L1551.37 936.87 L1555.46 936.92 L1559.54 936.97 L1563.63 937.02 L1567.71 937.07 L1571.8 937.11 L1575.88 937.16 L1579.97 937.21 L1584.05 937.25 L1588.14 937.3 L1592.22 937.34 L1596.31 937.38 L1600.39 937.43 L1604.48 937.47 L1608.56 937.51 L1612.65 937.55" fill="none" stroke="#0000ff" stroke-width="2.6" stroke-linejoin="round" stroke-linecap="round"/>
<path d="M1034.9 821.56 L1036.65 823.3 L1038.4 824.99 L1040.15 826.64 L1041.9 828.26 L1043.65 829.83 L1045.4 831.37 L1047.16 832.87 L1048.91 834.33 L1050.66 835.77 L1052.41 837.17 L1054.16 838.53 L1055.91 839.87 L1057.66 841.18 L1059.41 842.46 L1061.16 843.71 L1062.91 844.93 L1064.66 846.13 L1066.41 847.31 L1068.16 848.45 L1069.92 849.58 L1071.67 850.68 L1073.42 851.76 L1075.17 852.82 L1076.92 853.85 L1078.67 854.87 L1080.42 855.86 L1082.17 856.84 L1083.92 857.8 L1085.67 858.73 L1087.42 859.66 L1089.17 860.56 L1090.92 861.45 L1092.68 862.31 L1094.43 863.17 L1096.18 864.01 L1097.93 864.83 L1099.68 865.64 L1101.43 866.43 L1103.18 867.21 L1104.93 867.98 L1106.68 868.73 L1108.43 869.47 L1110.18 870.19 L1111.93 870.91 L1113.68 871.61 L1115.43 872.3 L1117.19 872.98 L1118.94 873.65 L1120.69 874.3 L1122.44 874.95 L1124.19 875.58 L1125.94 876.21 L1127.69 876.82 L1129.44 877.42 L1131.19 878.02 L1132.94 878.61 L1134.69 879.18 L1136.44 879.75 L1138.19 880.31 L1139.95 880.86 L1141.7 881.4 L1143.45 881.93 L1145.2 882.46 L1146.95 882.98 L1148.7 883.49 L1150.45 883.99 L1152.2 884.48 L1153.95 884.97 L1155.7 885.45 L1157.45 885.93 L1159.2 886.39 L1160.95 886.86 L1162.71 887.31 L1164.46 887.76 L1166.21 888.2 L1167.96 888.63 L1169.71 889.06 L1171.46 889.49 L1173.21 889.9 L1174.96 890.31 L1176.71 890.72 L1178.46 891.12 L1180.21 891.52 L1181.96 891.91 L1183.71 892.29 L1185.47 892.67 L1187.22 893.05 L1188.97 893.42 L1190.72 893.78 L1192.47 894.14 L1194.22 894.5 L1195.97 894.85 L1197.72 895.2 L1199.47 895.54 L1201.22 895.88 L1202.97 896.21 L1204.72 896.54 L1206.47 896.87 L1208.23 897.19 L1212.31 897.93 L1216.4 898.64 L1220.48 899.34 L1224.57 900.02 L1228.65 900.68 L1232.74 901.32 L1236.82 901.94 L1240.91 902.55 L1244.99 903.14 L1249.08 903.72 L1253.16 904.28 L1257.25 904.83 L1261.33 905.37 L1265.42 905.89 L1269.5 906.4 L1273.59 906.9 L1277.67 907.39 L1281.76 907.86 L1285.84 908.32 L1289.93 908.78 L1294.01 909.22 L1298.1 909.65 L1302.18 910.07 L1306.27 910.49 L1310.35 910.89 L1314.44 911.29 L1318.52 911.68 L1322.61 912.06 L1326.69 912.43 L1330.78 912.79 L1334.86 913.15 L1338.95 913.49 L1343.03 913.84 L1347.12 914.17 L1351.2 914.5 L1355.29 914.82 L1359.37 915.13 L1363.46 915.44 L1367.54 915.75 L1371.63 916.04 L1375.71 916.33 L1379.8 916.62 L1383.88 916.9 L1387.97 917.17 L1392.05 917.45 L1396.14 917.71 L1400.22 917.97 L1404.31 918.23 L1408.39 918.48 L1412.48 918.72 L1416.57 918.97 L1420.65 919.2 L1424.74 919.44 L1428.82 919.67 L1432.91 919.89 L1436.99 920.12 L1441.08 920.33 L1445.16 920.55 L1449.25 920.76 L1453.33 920.97 L1457.42 921.17 L1461.5 921.37 L1465.59 921.57 L1469.67 921.77 L1473.76 921.96 L1477.84 922.15 L1481.93 922.33 L1486.01 922.51 L1490.1 922.69 L1494.18 922.87 L1498.27 923.04 L1502.35 923.22 L1506.44 923.38 L1510.52 923.55 L1514.61 923.71 L1518.69 923.88 L1522.78 924.03 L1526.86 924.19 L1530.95 924.35 L1535.03 924.5 L1539.12 924.65 L1543.2 924.8 L1547.29 924.94 L1551.37 925.09 L1555.46 925.23 L1559.54 925.37 L1563.63 925.5 L1567.71 925.64 L1571.8 925.77 L1575.88 925.91 L1579.97 926.04 L1584.05 926.17 L1588.14 926.29 L1592.22 926.42 L1596.31 926.54 L1600.39 926.66 L1604.48 926.78 L1608.56 926.9 L1612.65 927.02" fill="none" stroke="#ff0000" stroke-width="2.6" stroke-linejoin="round" stroke-linecap="round"/>
<path d="M1034.9 748.43 L1036.65 751.1 L1038.4 753.71 L1040.15 756.26 L1041.9 758.76 L1043.65 761.19 L1045.4 763.57 L1047.16 765.9 L1048.91 768.18 L1050.66 770.4 L1052.41 772.58 L1054.16 774.72 L1055.91 776.8 L1057.66 778.84 L1059.41 780.85 L1061.16 782.8 L1062.91 784.72 L1064.66 786.6 L1066.41 788.44 L1068.16 790.25 L1069.92 792.02 L1071.67 793.75 L1073.42 795.45 L1075.17 797.12 L1076.92 798.75 L1078.67 800.36 L1080.42 801.93 L1082.17 803.47 L1083.92 804.99 L1085.67 806.48 L1087.42 807.94 L1089.17 809.37 L1090.92 810.78 L1092.68 812.16 L1094.43 813.52 L1096.18 814.85 L1097.93 816.16 L1099.68 817.45 L1101.43 818.71 L1103.18 819.96 L1104.93 821.18 L1106.68 822.38 L1108.43 823.56 L1110.18 824.73 L1111.93 825.87 L1113.68 826.99 L1115.43 828.1 L1117.19 829.18 L1118.94 830.25 L1120.69 831.31 L1122.44 832.34 L1124.19 833.36 L1125.94 834.37 L1127.69 835.35 L1129.44 836.33 L1131.19 837.28 L1132.94 838.23 L1134.69 839.15 L1136.44 840.07 L1138.19 840.97 L1139.95 841.86 L1141.7 842.73 L1143.45 843.59 L1145.2 844.44 L1146.95 845.28 L1148.7 846.1 L1150.45 846.91 L1152.2 847.71 L1153.95 848.5 L1155.7 849.28 L1157.45 850.05 L1159.2 850.81 L1160.95 851.55 L1162.71 852.29 L1164.46 853.01 L1166.21 853.73 L1167.96 854.43 L1169.71 855.13 L1171.46 855.82 L1173.21 856.5 L1174.96 857.16 L1176.71 857.82 L1178.46 858.48 L1180.21 859.12 L1181.96 859.75 L1183.71 860.38 L1185.47 861 L1187.22 861.61 L1188.97 862.21 L1190.72 862.8 L1192.47 863.39 L1194.22 863.97 L1195.97 864.54 L1197.72 865.11 L1199.47 865.67 L1201.22 866.22 L1202.97 866.77 L1204.72 867.3 L1206.47 867.84 L1208.23 868.36 L1212.31 869.56 L1216.4 870.73 L1220.48 871.87 L1224.57 872.98 L1228.65 874.06 L1232.74 875.11 L1236.82 876.13 L1240.91 877.13 L1244.99 878.1 L1249.08 879.04 L1253.16 879.97 L1257.25 880.87 L1261.33 881.74 L1265.42 882.6 L1269.5 883.44 L1273.59 884.26 L1277.67 885.05 L1281.76 885.83 L1285.84 886.6 L1289.93 887.34 L1294.01 888.07 L1298.1 888.78 L1302.18 889.47 L1306.27 890.15 L1310.35 890.82 L1314.44 891.47 L1318.52 892.11 L1322.61 892.73 L1326.69 893.34 L1330.78 893.94 L1334.86 894.53 L1338.95 895.1 L1343.03 895.66 L1347.12 896.21 L1351.2 896.75 L1355.29 897.28 L1359.37 897.8 L1363.46 898.31 L1367.54 898.81 L1371.63 899.3 L1375.71 899.78 L1379.8 900.25 L1383.88 900.71 L1387.97 901.17 L1392.05 901.61 L1396.14 902.05 L1400.22 902.48 L1404.31 902.9 L1408.39 903.32 L1412.48 903.72 L1416.57 904.12 L1420.65 904.52 L1424.74 904.9 L1428.82 905.28 L1432.91 905.65 L1436.99 906.02 L1441.08 906.38 L1445.16 906.74 L1449.25 907.08 L1453.33 907.43 L1457.42 907.76 L1461.5 908.09 L1465.59 908.42 L1469.67 908.74 L1473.76 909.06 L1477.84 909.37 L1481.93 909.67 L1486.01 909.98 L1490.1 910.27 L1494.18 910.56 L1498.27 910.85 L1502.35 911.13 L1506.44 911.41 L1510.52 911.69 L1514.61 911.96 L1518.69 912.22 L1522.78 912.49 L1526.86 912.75 L1530.95 913 L1535.03 913.25 L1539.12 913.5 L1543.2 913.74 L1547.29 913.98 L1551.37 914.22 L1555.46 914.45 L1559.54 914.69 L1563.63 914.91 L1567.71 915.14 L1571.8 915.36 L1575.88 915.58 L1579.97 915.79 L1584.05 916 L1588.14 916.21 L1592.22 916.42 L1596.31 916.62 L1600.39 916.82 L1604.48 917.02 L1608.56 917.22 L1612.65 917.41" fill="none" stroke="#000000" stroke-width="2.5" stroke-linejoin="round" stroke-linecap="round"/>
<path d="M1034.9 678.42 L1036.65 682.23 L1038.4 685.94 L1040.15 689.56 L1041.9 693.1 L1043.65 696.54 L1045.4 699.91 L1047.16 703.19 L1048.91 706.39 L1050.66 709.53 L1052.41 712.58 L1054.16 715.57 L1055.91 718.5 L1057.66 721.35 L1059.41 724.14 L1061.16 726.88 L1062.91 729.55 L1064.66 732.16 L1066.41 734.72 L1068.16 737.22 L1069.92 739.68 L1071.67 742.08 L1073.42 744.43 L1075.17 746.73 L1076.92 748.99 L1078.67 751.2 L1080.42 753.37 L1082.17 755.49 L1083.92 757.57 L1085.67 759.62 L1087.42 761.62 L1089.17 763.58 L1090.92 765.51 L1092.68 767.4 L1094.43 769.26 L1096.18 771.08 L1097.93 772.87 L1099.68 774.63 L1101.43 776.35 L1103.18 778.04 L1104.93 779.71 L1106.68 781.34 L1108.43 782.95 L1110.18 784.52 L1111.93 786.08 L1113.68 787.6 L1115.43 789.1 L1117.19 790.57 L1118.94 792.02 L1120.69 793.44 L1122.44 794.84 L1124.19 796.22 L1125.94 797.58 L1127.69 798.91 L1129.44 800.22 L1131.19 801.51 L1132.94 802.78 L1134.69 804.03 L1136.44 805.26 L1138.19 806.48 L1139.95 807.67 L1141.7 808.84 L1143.45 810 L1145.2 811.14 L1146.95 812.26 L1148.7 813.37 L1150.45 814.46 L1152.2 815.53 L1153.95 816.59 L1155.7 817.63 L1157.45 818.66 L1159.2 819.67 L1160.95 820.67 L1162.71 821.65 L1164.46 822.62 L1166.21 823.58 L1167.96 824.52 L1169.71 825.45 L1171.46 826.37 L1173.21 827.27 L1174.96 828.17 L1176.71 829.05 L1178.46 829.92 L1180.21 830.77 L1181.96 831.62 L1183.71 832.45 L1185.47 833.28 L1187.22 834.09 L1188.97 834.89 L1190.72 835.68 L1192.47 836.46 L1194.22 837.24 L1195.97 838 L1197.72 838.75 L1199.47 839.49 L1201.22 840.23 L1202.97 840.95 L1204.72 841.66 L1206.47 842.37 L1208.23 843.07 L1212.31 844.66 L1216.4 846.22 L1220.48 847.72 L1224.57 849.19 L1228.65 850.62 L1232.74 852.01 L1236.82 853.36 L1240.91 854.68 L1244.99 855.97 L1249.08 857.22 L1253.16 858.44 L1257.25 859.63 L1261.33 860.79 L1265.42 861.92 L1269.5 863.03 L1273.59 864.11 L1277.67 865.16 L1281.76 866.19 L1285.84 867.19 L1289.93 868.18 L1294.01 869.14 L1298.1 870.07 L1302.18 870.99 L1306.27 871.89 L1310.35 872.77 L1314.44 873.63 L1318.52 874.47 L1322.61 875.29 L1326.69 876.09 L1330.78 876.88 L1334.86 877.65 L1338.95 878.41 L1343.03 879.15 L1347.12 879.88 L1351.2 880.59 L1355.29 881.29 L1359.37 881.97 L1363.46 882.64 L1367.54 883.3 L1371.63 883.94 L1375.71 884.58 L1379.8 885.2 L1383.88 885.81 L1387.97 886.4 L1392.05 886.99 L1396.14 887.57 L1400.22 888.13 L1404.31 888.69 L1408.39 889.24 L1412.48 889.77 L1416.57 890.3 L1420.65 890.82 L1424.74 891.33 L1428.82 891.83 L1432.91 892.32 L1436.99 892.8 L1441.08 893.28 L1445.16 893.74 L1449.25 894.2 L1453.33 894.65 L1457.42 895.1 L1461.5 895.54 L1465.59 895.97 L1469.67 896.39 L1473.76 896.81 L1477.84 897.22 L1481.93 897.62 L1486.01 898.02 L1490.1 898.41 L1494.18 898.8 L1498.27 899.17 L1502.35 899.55 L1506.44 899.92 L1510.52 900.28 L1514.61 900.64 L1518.69 900.99 L1522.78 901.34 L1526.86 901.68 L1530.95 902.01 L1535.03 902.35 L1539.12 902.67 L1543.2 903 L1547.29 903.31 L1551.37 903.63 L1555.46 903.94 L1559.54 904.24 L1563.63 904.54 L1567.71 904.84 L1571.8 905.13 L1575.88 905.42 L1579.97 905.71 L1584.05 905.99 L1588.14 906.26 L1592.22 906.54 L1596.31 906.81 L1600.39 907.07 L1604.48 907.34 L1608.56 907.6 L1612.65 907.85" fill="none" stroke="#1e6b12" stroke-width="2.45" stroke-linejoin="round" stroke-linecap="round"/>
<path d="M1034.9 607.71 L1036.65 612.59 L1038.4 617.35 L1040.15 621.99 L1041.9 626.51 L1043.65 630.92 L1045.4 635.23 L1047.16 639.43 L1048.91 643.53 L1050.66 647.54 L1052.41 651.45 L1054.16 655.27 L1055.91 659 L1057.66 662.65 L1059.41 666.22 L1061.16 669.71 L1062.91 673.12 L1064.66 676.46 L1066.41 679.72 L1068.16 682.92 L1069.92 686.04 L1071.67 689.11 L1073.42 692.1 L1075.17 695.04 L1076.92 697.92 L1078.67 700.73 L1080.42 703.49 L1082.17 706.2 L1083.92 708.85 L1085.67 711.45 L1087.42 714 L1089.17 716.51 L1090.92 718.96 L1092.68 721.37 L1094.43 723.73 L1096.18 726.05 L1097.93 728.32 L1099.68 730.55 L1101.43 732.75 L1103.18 734.9 L1104.93 737.01 L1106.68 739.09 L1108.43 741.13 L1110.18 743.14 L1111.93 745.1 L1113.68 747.04 L1115.43 748.94 L1117.19 750.81 L1118.94 752.65 L1120.69 754.46 L1122.44 756.24 L1124.19 757.99 L1125.94 759.7 L1127.69 761.4 L1129.44 763.06 L1131.19 764.7 L1132.94 766.31 L1134.69 767.9 L1136.44 769.46 L1138.19 770.99 L1139.95 772.51 L1141.7 774 L1143.45 775.46 L1145.2 776.91 L1146.95 778.33 L1148.7 779.73 L1150.45 781.11 L1152.2 782.47 L1153.95 783.81 L1155.7 785.13 L1157.45 786.43 L1159.2 787.71 L1160.95 788.98 L1162.71 790.22 L1164.46 791.45 L1166.21 792.66 L1167.96 793.86 L1169.71 795.03 L1171.46 796.2 L1173.21 797.34 L1174.96 798.47 L1176.71 799.58 L1178.46 800.68 L1180.21 801.77 L1181.96 802.84 L1183.71 803.89 L1185.47 804.93 L1187.22 805.96 L1188.97 806.97 L1190.72 807.98 L1192.47 808.96 L1194.22 809.94 L1195.97 810.9 L1197.72 811.85 L1199.47 812.79 L1201.22 813.72 L1202.97 814.63 L1204.72 815.54 L1206.47 816.43 L1208.23 817.31 L1212.31 819.33 L1216.4 821.29 L1220.48 823.19 L1224.57 825.05 L1228.65 826.85 L1232.74 828.61 L1236.82 830.31 L1240.91 831.98 L1244.99 833.6 L1249.08 835.18 L1253.16 836.72 L1257.25 838.22 L1261.33 839.69 L1265.42 841.12 L1269.5 842.51 L1273.59 843.87 L1277.67 845.2 L1281.76 846.5 L1285.84 847.76 L1289.93 849 L1294.01 850.21 L1298.1 851.4 L1302.18 852.55 L1306.27 853.68 L1310.35 854.79 L1314.44 855.87 L1318.52 856.93 L1322.61 857.97 L1326.69 858.98 L1330.78 859.97 L1334.86 860.95 L1338.95 861.9 L1343.03 862.83 L1347.12 863.75 L1351.2 864.64 L1355.29 865.52 L1359.37 866.38 L1363.46 867.23 L1367.54 868.06 L1371.63 868.87 L1375.71 869.66 L1379.8 870.45 L1383.88 871.21 L1387.97 871.97 L1392.05 872.71 L1396.14 873.43 L1400.22 874.14 L1404.31 874.84 L1408.39 875.53 L1412.48 876.2 L1416.57 876.87 L1420.65 877.52 L1424.74 878.16 L1428.82 878.79 L1432.91 879.41 L1436.99 880.01 L1441.08 880.61 L1445.16 881.2 L1449.25 881.78 L1453.33 882.35 L1457.42 882.91 L1461.5 883.46 L1465.59 884 L1469.67 884.53 L1473.76 885.05 L1477.84 885.57 L1481.93 886.08 L1486.01 886.58 L1490.1 887.07 L1494.18 887.55 L1498.27 888.03 L1502.35 888.5 L1506.44 888.96 L1510.52 889.42 L1514.61 889.87 L1518.69 890.31 L1522.78 890.75 L1526.86 891.18 L1530.95 891.6 L1535.03 892.02 L1539.12 892.43 L1543.2 892.84 L1547.29 893.24 L1551.37 893.63 L1555.46 894.02 L1559.54 894.4 L1563.63 894.78 L1567.71 895.15 L1571.8 895.52 L1575.88 895.88 L1579.97 896.24 L1584.05 896.59 L1588.14 896.94 L1592.22 897.29 L1596.31 897.63 L1600.39 897.96 L1604.48 898.29 L1608.56 898.62 L1612.65 898.94" fill="none" stroke="#641eaa" stroke-width="2.35" stroke-linejoin="round" stroke-linecap="round"/>
<text x="1382.25" y="1031.9" font-size="35" text-anchor="middle" font-weight="bold"><tspan font-style="italic">x/L</tspan> ratio</text>
<text transform="translate(935.4 751) rotate(-90)" font-size="35" text-anchor="middle" font-weight="bold"><tspan font-style="italic">f</tspan><tspan font-style="italic" font-size="21.5" dy="7.6">T</tspan><tspan dy="-7.6"> (1/s)</tspan></text>
<line x1="1501.2" y1="580.2" x2="1549.3" y2="580.2" stroke="#0000ff" stroke-width="2.6" stroke-linecap="round"/>
<text transform="translate(1554.5 587.6) scale(0.990 1)" font-size="21" text-anchor="start" font-weight="normal" font-style="normal">0.05 L/s, 3.06 bar</text>
<line x1="1501.2" y1="620" x2="1549.3" y2="620" stroke="#ff0000" stroke-width="2.6" stroke-linecap="round"/>
<text transform="translate(1554.5 627.4) scale(0.990 1)" font-size="21" text-anchor="start" font-weight="normal" font-style="normal">0.15 L/s, 3.00 bar</text>
<line x1="1501.2" y1="661.2" x2="1549.3" y2="661.2" stroke="#000000" stroke-width="2.5" stroke-linecap="round"/>
<text transform="translate(1554.5 668.6) scale(0.990 1)" font-size="21" text-anchor="start" font-weight="normal" font-style="normal">0.25 L/s, 2.92 bar</text>
<line x1="1501.2" y1="700.9" x2="1549.3" y2="700.9" stroke="#1e6b12" stroke-width="2.45" stroke-linecap="round"/>
<text transform="translate(1554.5 708.3) scale(0.990 1)" font-size="21" text-anchor="start" font-weight="normal" font-style="normal">0.35 L/s, 2.48 bar</text>
<line x1="1501.2" y1="740.9" x2="1549.3" y2="740.9" stroke="#641eaa" stroke-width="2.35" stroke-linecap="round"/>
<text transform="translate(1554.5 748.3) scale(0.990 1)" font-size="21" text-anchor="start" font-weight="normal" font-style="normal">0.45 L/s, 2.34 bar</text>
<text transform="translate(1042.7 595.3) scale(1.000 1)" font-size="39.5" text-anchor="start" font-weight="bold" font-style="normal">(d)</text>
<rect x="114.9" y="1100.5" width="706.8" height="388" fill="none" stroke="#000" stroke-width="2.25"/>
<line x1="114.9" y1="1488.5" x2="114.9" y2="1497.1" stroke="#000" stroke-width="2.1" stroke-linecap="butt"/>
<text transform="translate(114.9 1531.3) scale(0.915 1)" font-size="30.4" text-anchor="middle" font-weight="normal" font-style="normal">0</text>
<line x1="232.7" y1="1488.5" x2="232.7" y2="1497.1" stroke="#000" stroke-width="2.1" stroke-linecap="butt"/>
<text transform="translate(232.7 1531.3) scale(0.915 1)" font-size="30.4" text-anchor="middle" font-weight="normal" font-style="normal">0.2</text>
<line x1="350.5" y1="1488.5" x2="350.5" y2="1497.1" stroke="#000" stroke-width="2.1" stroke-linecap="butt"/>
<text transform="translate(350.5 1531.3) scale(0.915 1)" font-size="30.4" text-anchor="middle" font-weight="normal" font-style="normal">0.4</text>
<line x1="468.3" y1="1488.5" x2="468.3" y2="1497.1" stroke="#000" stroke-width="2.1" stroke-linecap="butt"/>
<text transform="translate(468.3 1531.3) scale(0.915 1)" font-size="30.4" text-anchor="middle" font-weight="normal" font-style="normal">0.6</text>
<line x1="586.1" y1="1488.5" x2="586.1" y2="1497.1" stroke="#000" stroke-width="2.1" stroke-linecap="butt"/>
<text transform="translate(586.1 1531.3) scale(0.915 1)" font-size="30.4" text-anchor="middle" font-weight="normal" font-style="normal">0.8</text>
<line x1="703.9" y1="1488.5" x2="703.9" y2="1497.1" stroke="#000" stroke-width="2.1" stroke-linecap="butt"/>
<text transform="translate(703.9 1531.3) scale(0.915 1)" font-size="30.4" text-anchor="middle" font-weight="normal" font-style="normal">1</text>
<line x1="821.7" y1="1488.5" x2="821.7" y2="1497.1" stroke="#000" stroke-width="2.1" stroke-linecap="butt"/>
<text transform="translate(821.7 1531.3) scale(0.915 1)" font-size="30.4" text-anchor="middle" font-weight="normal" font-style="normal">1.2</text>
<line x1="106.1" y1="1488.5" x2="114.9" y2="1488.5" stroke="#000" stroke-width="2.1" stroke-linecap="butt"/>
<text transform="translate(91.1 1497.5) scale(0.915 1)" font-size="30.4" text-anchor="end" font-weight="normal" font-style="normal">-1</text>
<line x1="106.1" y1="1445.39" x2="114.9" y2="1445.39" stroke="#000" stroke-width="2.1" stroke-linecap="butt"/>
<text transform="translate(91.1 1454.39) scale(0.915 1)" font-size="30.4" text-anchor="end" font-weight="normal" font-style="normal">-0.5</text>
<line x1="106.1" y1="1402.28" x2="114.9" y2="1402.28" stroke="#000" stroke-width="2.1" stroke-linecap="butt"/>
<text transform="translate(91.1 1411.28) scale(0.915 1)" font-size="30.4" text-anchor="end" font-weight="normal" font-style="normal">0</text>
<line x1="106.1" y1="1359.17" x2="114.9" y2="1359.17" stroke="#000" stroke-width="2.1" stroke-linecap="butt"/>
<text transform="translate(91.1 1368.17) scale(0.915 1)" font-size="30.4" text-anchor="end" font-weight="normal" font-style="normal">0.5</text>
<line x1="106.1" y1="1316.06" x2="114.9" y2="1316.06" stroke="#000" stroke-width="2.1" stroke-linecap="butt"/>
<text transform="translate(91.1 1325.06) scale(0.915 1)" font-size="30.4" text-anchor="end" font-weight="normal" font-style="normal">1</text>
<line x1="106.1" y1="1272.94" x2="114.9" y2="1272.94" stroke="#000" stroke-width="2.1" stroke-linecap="butt"/>
<text transform="translate(91.1 1281.94) scale(0.915 1)" font-size="30.4" text-anchor="end" font-weight="normal" font-style="normal">1.5</text>
<line x1="106.1" y1="1229.83" x2="114.9" y2="1229.83" stroke="#000" stroke-width="2.1" stroke-linecap="butt"/>
<text transform="translate(91.1 1238.83) scale(0.915 1)" font-size="30.4" text-anchor="end" font-weight="normal" font-style="normal">2</text>
<line x1="106.1" y1="1186.72" x2="114.9" y2="1186.72" stroke="#000" stroke-width="2.1" stroke-linecap="butt"/>
<text transform="translate(91.1 1195.72) scale(0.915 1)" font-size="30.4" text-anchor="end" font-weight="normal" font-style="normal">2.5</text>
<line x1="106.1" y1="1143.61" x2="114.9" y2="1143.61" stroke="#000" stroke-width="2.1" stroke-linecap="butt"/>
<text transform="translate(91.1 1152.61) scale(0.915 1)" font-size="30.4" text-anchor="end" font-weight="normal" font-style="normal">3</text>
<line x1="106.1" y1="1100.5" x2="114.9" y2="1100.5" stroke="#000" stroke-width="2.1" stroke-linecap="butt"/>
<text transform="translate(91.1 1109.5) scale(0.915 1)" font-size="30.4" text-anchor="end" font-weight="normal" font-style="normal">3.5</text>
<path d="M115 1298.1 C119.21 1297.94 137.52 1297.14 146.6 1296.9 C155.68 1296.66 166.65 1296.46 183.1 1296.3 C199.55 1296.14 238.41 1295.78 270 1295.7 C301.59 1295.62 362.16 1295.66 420 1295.7 C477.84 1295.74 665.96 1295.96 703.8 1296" fill="none" stroke="#0000ff" stroke-width="2.39" stroke-linejoin="round" stroke-linecap="round"/>
<path d="M115.5 1310 C116.29 1310 120.07 1310.35 121.4 1310 C122.73 1309.65 124.1 1307.87 125.5 1307.4 C126.9 1306.93 130.31 1306.83 131.9 1306.5 C133.49 1306.17 135.2 1305.26 137.4 1304.9 C139.6 1304.54 145.23 1304.05 148.4 1303.8 C151.57 1303.55 158.4 1303.25 161.2 1303 C164 1302.75 166.23 1302.14 169.4 1301.9 C172.57 1301.66 180.73 1301.36 185 1301.2 C189.27 1301.04 190.07 1300.85 201.4 1300.7 C212.73 1300.55 251.52 1300.25 270 1300.1 C288.48 1299.95 320 1299.69 340 1299.6 C360 1299.51 371.49 1299.45 420 1299.4 C468.51 1299.35 665.96 1299.23 703.8 1299.2" fill="none" stroke="#ff0000" stroke-width="2.39" stroke-linejoin="round" stroke-linecap="round"/>
<path d="M115.5 1359.1 C115.86 1358.18 117.41 1353.72 118.2 1352.2 C118.99 1350.68 120.29 1348.67 121.4 1347.7 C122.51 1346.73 125.39 1346.13 126.5 1344.9 C127.61 1343.67 128.73 1339.86 129.7 1338.5 C130.67 1337.14 132.59 1335.03 133.8 1334.7 C135.01 1334.37 137.35 1336.16 138.8 1336 C140.25 1335.84 143.18 1334.29 144.7 1333.5 C146.22 1332.71 148.67 1331.14 150.2 1330.1 C151.73 1329.06 154.61 1326.29 156.2 1325.7 C157.79 1325.11 160.46 1326.43 162.1 1325.7 C163.74 1324.97 167.03 1321.05 168.5 1320.2 C169.97 1319.35 171.63 1319.11 173.1 1319.3 C174.57 1319.49 177.79 1321.65 179.5 1321.6 C181.21 1321.55 183.71 1319.57 185.9 1318.9 C188.09 1318.23 193.58 1317.17 195.9 1316.6 C198.22 1316.03 201.46 1314.71 203.3 1314.6 C205.14 1314.49 207.14 1315.8 209.7 1315.8 C212.26 1315.8 219.46 1315.08 222.5 1314.6 C225.54 1314.12 230.43 1312.33 232.5 1312.2 C234.57 1312.07 236.05 1313.48 238 1313.6 C239.95 1313.72 244.66 1313.38 247.1 1313.1 C249.54 1312.82 253.25 1311.71 256.3 1311.5 C259.35 1311.29 264.63 1311.62 270 1311.5 C275.37 1311.38 292.2 1310.84 296.6 1310.6 C301 1310.36 301.29 1309.7 303 1309.7 C304.71 1309.7 306.6 1310.6 309.4 1310.6 C312.2 1310.6 318.4 1309.87 324 1309.7 C329.6 1309.53 340.43 1309.34 351.4 1309.3 C362.37 1309.26 397.15 1309.4 406.3 1309.4 C415.45 1309.4 407.51 1309.35 420 1309.3 C432.49 1309.25 462.16 1309.07 500 1309 C537.84 1308.93 676.63 1308.83 703.8 1308.8" fill="none" stroke="#000000" stroke-width="2.3" stroke-linejoin="round" stroke-linecap="round"/>
<path d="M115.5 1390.6 C116.05 1391.03 118.63 1393.8 119.6 1393.8 C120.57 1393.8 121.88 1392.36 122.8 1390.6 C123.72 1388.84 125.58 1383.64 126.5 1380.6 C127.42 1377.56 128.85 1370.31 129.7 1367.8 C130.55 1365.29 131.81 1362.11 132.9 1361.8 C133.99 1361.49 136.93 1365.43 137.9 1365.5 C138.87 1365.57 139.47 1364.07 140.2 1362.3 C140.93 1360.53 142.55 1354.03 143.4 1352.2 C144.25 1350.37 145.69 1349.33 146.6 1348.6 C147.51 1347.87 148.99 1347.93 150.2 1346.7 C151.41 1345.47 154.23 1340.8 155.7 1339.4 C157.17 1338 159.61 1336.75 161.2 1336.2 C162.79 1335.65 166.13 1335.26 167.6 1335.3 C169.07 1335.34 170.85 1336.74 172.2 1336.5 C173.55 1336.26 175.99 1334.7 177.7 1333.5 C179.41 1332.3 183.29 1328.54 185 1327.5 C186.71 1326.46 188.91 1326.09 190.5 1325.7 C192.09 1325.31 195.07 1324.51 196.9 1324.6 C198.73 1324.69 202.63 1326.31 204.2 1326.4 C205.77 1326.49 207.25 1326.01 208.7 1325.3 C210.15 1324.59 212.9 1321.87 215.1 1321.1 C217.3 1320.33 222.88 1319.47 225.2 1319.5 C227.52 1319.53 230.79 1321.21 232.5 1321.3 C234.21 1321.39 236.41 1320.4 238 1320.2 C239.59 1320 242.69 1320.23 244.4 1319.8 C246.11 1319.37 249.21 1317.37 250.8 1317 C252.39 1316.63 254.59 1317.17 256.3 1317 C258.01 1316.83 262.13 1315.94 263.6 1315.7 C265.07 1315.46 265.95 1315.08 267.3 1315.2 C268.65 1315.32 271.38 1316.68 273.7 1316.6 C276.02 1316.52 282.02 1314.67 284.7 1314.6 C287.38 1314.53 291.36 1316.26 293.8 1316.1 C296.24 1315.94 301.04 1313.59 303 1313.4 C304.96 1313.21 306.79 1314.74 308.5 1314.7 C310.21 1314.66 313.49 1313.11 315.8 1313.1 C318.11 1313.09 323.49 1314.56 325.8 1314.6 C328.11 1314.64 330.9 1313.48 333.1 1313.4 C335.3 1313.32 338.63 1314.12 342.3 1314 C345.97 1313.88 356.95 1312.58 360.6 1312.5 C364.25 1312.42 366.05 1313.4 369.7 1313.4 C373.35 1313.4 383.12 1312.69 388 1312.5 C392.88 1312.31 402.03 1312.09 406.3 1312 C410.57 1311.91 407.51 1311.85 420 1311.8 C432.49 1311.75 462.16 1311.65 500 1311.6 C537.84 1311.55 676.63 1311.43 703.8 1311.4" fill="none" stroke="#1e6b12" stroke-width="2.25" stroke-linejoin="round" stroke-linecap="round"/>
<text x="468.2" y="1576.2" font-size="35" text-anchor="middle" font-weight="bold"><tspan font-style="italic">x/L</tspan> ratio</text>
<text transform="translate(27.9 1294.6) rotate(-90)" font-size="35" text-anchor="middle" font-weight="bold"><tspan font-style="italic">P</tspan><tspan font-style="italic" font-size="21.5" dy="7.6">x</tspan><tspan dy="-7.6"> (bar)</tspan></text>
<line x1="587.5" y1="1348.8" x2="635.9" y2="1348.8" stroke="#0000ff" stroke-width="2.6" stroke-linecap="round"/>
<text transform="translate(640.5 1356.2) scale(0.990 1)" font-size="21" text-anchor="start" font-weight="normal" font-style="normal">0.05 L/s, 1.24 bar</text>
<line x1="587.5" y1="1389.8" x2="635.9" y2="1389.8" stroke="#ff0000" stroke-width="2.6" stroke-linecap="round"/>
<text transform="translate(640.5 1397.2) scale(0.990 1)" font-size="21" text-anchor="start" font-weight="normal" font-style="normal">0.10 L/s, 1.20 bar</text>
<line x1="587.5" y1="1429.7" x2="635.9" y2="1429.7" stroke="#000000" stroke-width="2.5" stroke-linecap="round"/>
<text transform="translate(640.5 1437.1) scale(0.990 1)" font-size="21" text-anchor="start" font-weight="normal" font-style="normal">0.20 L/s, 1.08 bar</text>
<line x1="587.5" y1="1469.5" x2="635.9" y2="1469.5" stroke="#1e6b12" stroke-width="2.45" stroke-linecap="round"/>
<text transform="translate(640.5 1476.9) scale(0.990 1)" font-size="21" text-anchor="start" font-weight="normal" font-style="normal">0.25 L/s, 1.06 bar</text>
<text transform="translate(765.3 1141.1) scale(1.000 1)" font-size="39.5" text-anchor="start" font-weight="bold" font-style="normal">(e)</text>
<rect x="1021.7" y="1100.5" width="706.5" height="387.2" fill="none" stroke="#000" stroke-width="2.25"/>
<line x1="1021.7" y1="1487.7" x2="1021.7" y2="1496.3" stroke="#000" stroke-width="1.6" stroke-linecap="butt"/>
<text transform="translate(1021.7 1530.5) scale(0.915 1)" font-size="30.4" text-anchor="middle" font-weight="normal" font-style="normal">0</text>
<line x1="1139.45" y1="1487.7" x2="1139.45" y2="1496.3" stroke="#000" stroke-width="1.6" stroke-linecap="butt"/>
<text transform="translate(1139.45 1530.5) scale(0.915 1)" font-size="30.4" text-anchor="middle" font-weight="normal" font-style="normal">0.2</text>
<line x1="1257.2" y1="1487.7" x2="1257.2" y2="1496.3" stroke="#000" stroke-width="1.6" stroke-linecap="butt"/>
<text transform="translate(1257.2 1530.5) scale(0.915 1)" font-size="30.4" text-anchor="middle" font-weight="normal" font-style="normal">0.4</text>
<line x1="1374.95" y1="1487.7" x2="1374.95" y2="1496.3" stroke="#000" stroke-width="1.6" stroke-linecap="butt"/>
<text transform="translate(1374.95 1530.5) scale(0.915 1)" font-size="30.4" text-anchor="middle" font-weight="normal" font-style="normal">0.6</text>
<line x1="1492.7" y1="1487.7" x2="1492.7" y2="1496.3" stroke="#000" stroke-width="1.6" stroke-linecap="butt"/>
<text transform="translate(1492.7 1530.5) scale(0.915 1)" font-size="30.4" text-anchor="middle" font-weight="normal" font-style="normal">0.8</text>
<line x1="1610.45" y1="1487.7" x2="1610.45" y2="1496.3" stroke="#000" stroke-width="1.6" stroke-linecap="butt"/>
<text transform="translate(1610.45 1530.5) scale(0.915 1)" font-size="30.4" text-anchor="middle" font-weight="normal" font-style="normal">1</text>
<line x1="1728.2" y1="1487.7" x2="1728.2" y2="1496.3" stroke="#000" stroke-width="1.6" stroke-linecap="butt"/>
<text transform="translate(1728.2 1530.5) scale(0.915 1)" font-size="30.4" text-anchor="middle" font-weight="normal" font-style="normal">1.2</text>
<line x1="1012.9" y1="1487.7" x2="1021.7" y2="1487.7" stroke="#000" stroke-width="1.6" stroke-linecap="butt"/>
<text transform="translate(997.9 1496.7) scale(0.915 1)" font-size="30.4" text-anchor="end" font-weight="normal" font-style="normal">-1</text>
<line x1="1012.9" y1="1444.68" x2="1021.7" y2="1444.68" stroke="#000" stroke-width="1.6" stroke-linecap="butt"/>
<text transform="translate(997.9 1453.68) scale(0.915 1)" font-size="30.4" text-anchor="end" font-weight="normal" font-style="normal">-0.5</text>
<line x1="1012.9" y1="1401.66" x2="1021.7" y2="1401.66" stroke="#000" stroke-width="1.6" stroke-linecap="butt"/>
<text transform="translate(997.9 1410.66) scale(0.915 1)" font-size="30.4" text-anchor="end" font-weight="normal" font-style="normal">0</text>
<line x1="1012.9" y1="1358.63" x2="1021.7" y2="1358.63" stroke="#000" stroke-width="1.6" stroke-linecap="butt"/>
<text transform="translate(997.9 1367.63) scale(0.915 1)" font-size="30.4" text-anchor="end" font-weight="normal" font-style="normal">0.5</text>
<line x1="1012.9" y1="1315.61" x2="1021.7" y2="1315.61" stroke="#000" stroke-width="1.6" stroke-linecap="butt"/>
<text transform="translate(997.9 1324.61) scale(0.915 1)" font-size="30.4" text-anchor="end" font-weight="normal" font-style="normal">1</text>
<line x1="1012.9" y1="1272.59" x2="1021.7" y2="1272.59" stroke="#000" stroke-width="1.6" stroke-linecap="butt"/>
<text transform="translate(997.9 1281.59) scale(0.915 1)" font-size="30.4" text-anchor="end" font-weight="normal" font-style="normal">1.5</text>
<line x1="1012.9" y1="1229.57" x2="1021.7" y2="1229.57" stroke="#000" stroke-width="1.6" stroke-linecap="butt"/>
<text transform="translate(997.9 1238.57) scale(0.915 1)" font-size="30.4" text-anchor="end" font-weight="normal" font-style="normal">2</text>
<line x1="1012.9" y1="1186.54" x2="1021.7" y2="1186.54" stroke="#000" stroke-width="1.6" stroke-linecap="butt"/>
<text transform="translate(997.9 1195.54) scale(0.915 1)" font-size="30.4" text-anchor="end" font-weight="normal" font-style="normal">2.5</text>
<line x1="1012.9" y1="1143.52" x2="1021.7" y2="1143.52" stroke="#000" stroke-width="1.6" stroke-linecap="butt"/>
<text transform="translate(997.9 1152.52) scale(0.915 1)" font-size="30.4" text-anchor="end" font-weight="normal" font-style="normal">3</text>
<line x1="1012.9" y1="1100.5" x2="1021.7" y2="1100.5" stroke="#000" stroke-width="1.6" stroke-linecap="butt"/>
<text transform="translate(997.9 1109.5) scale(0.915 1)" font-size="30.4" text-anchor="end" font-weight="normal" font-style="normal">3.5</text>
<path d="M1021.7 1141.8 C1025.69 1141.6 1042.75 1140.62 1051.6 1140.3 C1060.45 1139.98 1071.65 1139.57 1088.1 1139.4 C1104.55 1139.23 1142.75 1139.05 1175 1139 C1207.25 1138.95 1274.67 1139.01 1330 1139 C1385.33 1138.99 1554 1138.95 1590 1138.9 C1600 1138.85 1597.2 1138.57 1600 1138.6 C1602.8 1138.63 1609.53 1139.03 1611 1139.1" fill="none" stroke="#0000ff" stroke-width="2.39" stroke-linejoin="round" stroke-linecap="round"/>
<path d="M1021.7 1169.4 C1022.39 1168.91 1025.35 1166.74 1026.9 1165.7 C1028.45 1164.66 1031.71 1162.08 1033.3 1161.6 C1034.89 1161.12 1037.21 1162.95 1038.8 1162.1 C1040.39 1161.25 1043.56 1155.84 1045.2 1155.2 C1046.84 1154.56 1049.03 1157.37 1051.1 1157.3 C1053.17 1157.23 1057.95 1155.41 1060.7 1154.7 C1063.45 1153.99 1069.02 1152.55 1071.7 1152 C1074.38 1151.45 1078.79 1151.07 1080.8 1150.6 C1082.81 1150.13 1085.21 1148.58 1086.8 1148.5 C1088.39 1148.42 1090.33 1150.17 1092.7 1150 C1095.07 1149.83 1102.28 1147.43 1104.6 1147.2 C1106.92 1146.97 1108.63 1148.39 1110.1 1148.3 C1111.57 1148.21 1114.01 1146.59 1115.6 1146.5 C1117.19 1146.41 1120.29 1147.65 1122 1147.6 C1123.71 1147.55 1126.88 1146.21 1128.4 1146.1 C1129.92 1145.99 1131.69 1146.87 1133.4 1146.8 C1135.11 1146.73 1138.95 1145.76 1141.2 1145.6 C1143.45 1145.44 1148.23 1145.69 1150.3 1145.6 C1152.37 1145.51 1154.99 1144.87 1156.7 1144.9 C1158.41 1144.93 1160.66 1145.8 1163.1 1145.8 C1165.54 1145.8 1169.28 1145.06 1175 1144.9 C1180.72 1144.74 1195.73 1144.69 1206 1144.6 C1216.27 1144.51 1235.47 1144.28 1252 1144.2 C1268.53 1144.12 1282.13 1144.05 1330 1144 C1377.87 1143.95 1573.53 1143.83 1611 1143.8" fill="none" stroke="#ff0000" stroke-width="2.39" stroke-linejoin="round" stroke-linecap="round"/>
<path d="M1021.7 1227 C1021.9 1225.89 1022.57 1221.51 1023.2 1218.7 C1023.83 1215.89 1025.67 1208.15 1026.4 1205.9 C1027.13 1203.65 1027.78 1202.77 1028.7 1201.8 C1029.62 1200.83 1031.95 1199.88 1033.3 1198.6 C1034.65 1197.32 1037.33 1193.53 1038.8 1192.2 C1040.27 1190.87 1042.97 1189.93 1044.3 1188.6 C1045.63 1187.27 1047.83 1183.36 1048.8 1182.2 C1049.77 1181.04 1050.56 1179.73 1051.6 1179.9 C1052.64 1180.07 1055.51 1183.69 1056.6 1183.5 C1057.69 1183.31 1058.88 1179.87 1059.8 1178.5 C1060.72 1177.13 1062.03 1174.11 1063.5 1173.2 C1064.97 1172.29 1069.23 1172.15 1070.8 1171.7 C1072.37 1171.25 1073.47 1170.65 1075.3 1169.8 C1077.13 1168.95 1082.18 1165.85 1084.5 1165.3 C1086.82 1164.75 1090.26 1165.7 1092.7 1165.7 C1095.14 1165.7 1100.55 1166.03 1102.8 1165.3 C1105.05 1164.57 1107.89 1160.63 1109.6 1160.2 C1111.31 1159.77 1113.21 1162.15 1115.6 1162.1 C1117.99 1162.05 1125.19 1160.15 1127.5 1159.8 C1129.81 1159.45 1131.19 1159.81 1132.9 1159.5 C1134.61 1159.19 1138.71 1157.74 1140.3 1157.5 C1141.89 1157.26 1143.23 1157.94 1144.8 1157.7 C1146.37 1157.46 1150.39 1155.85 1152.1 1155.7 C1153.81 1155.55 1155.76 1156.67 1157.6 1156.6 C1159.44 1156.53 1164.25 1155.4 1165.9 1155.2 C1167.55 1155 1168.84 1155.19 1170 1155.1 C1171.16 1155.01 1173.25 1154.41 1174.6 1154.5 C1175.95 1154.59 1178.51 1155.84 1180.1 1155.8 C1181.69 1155.76 1184.67 1154.32 1186.5 1154.2 C1188.33 1154.08 1191.37 1155.07 1193.8 1154.9 C1196.23 1154.73 1202.02 1153.15 1204.7 1152.9 C1207.38 1152.65 1211.46 1152.88 1213.9 1153 C1216.34 1153.12 1220.32 1153.88 1223 1153.8 C1225.68 1153.72 1231.56 1152.63 1234 1152.4 C1236.44 1152.17 1239.59 1152.02 1241.3 1152.1 C1243.01 1152.18 1244.85 1153.03 1246.8 1153 C1248.75 1152.97 1252.73 1152.02 1255.9 1151.9 C1259.07 1151.78 1267.67 1151.97 1270.6 1152.1 C1273.53 1152.23 1275.22 1152.94 1277.9 1152.9 C1280.58 1152.86 1286.81 1151.93 1290.7 1151.8 C1294.59 1151.67 1303.69 1151.94 1307.1 1151.9 C1310.51 1151.86 1313.25 1151.51 1316.3 1151.5 C1319.35 1151.49 1316.3 1151.8 1330 1151.8 C1343.83 1151.8 1397.33 1151.58 1420 1151.5 C1442.67 1151.42 1474.53 1151.27 1500 1151.2 C1525.47 1151.13 1596.2 1151.03 1611 1151" fill="none" stroke="#000000" stroke-width="2.3" stroke-linejoin="round" stroke-linecap="round"/>
<path d="M1021.9 1315.8 C1022.34 1313.85 1024.37 1304.31 1025.2 1301.2 C1026.03 1298.09 1027.03 1294.25 1028.1 1292.5 C1029.17 1290.75 1031.73 1289.66 1033.2 1288.1 C1034.67 1286.54 1037.74 1282.55 1039.1 1280.8 C1040.46 1279.05 1042.44 1276.75 1043.4 1275 C1044.36 1273.25 1045.42 1271.1 1046.3 1267.7 C1047.18 1264.3 1049.2 1252.13 1050 1249.5 C1050.8 1246.87 1051.39 1247.99 1052.3 1248 C1053.21 1248.01 1055.48 1250.05 1056.8 1249.6 C1058.12 1249.15 1060.71 1246.52 1062.2 1244.6 C1063.69 1242.68 1066.97 1236.6 1068 1235.2 C1069.03 1233.8 1069.17 1234.07 1069.9 1234.1 C1070.63 1234.13 1072.65 1235.99 1073.5 1235.4 C1074.35 1234.81 1075.57 1231.67 1076.3 1229.7 C1077.03 1227.73 1078.4 1222 1079 1220.6 C1079.6 1219.2 1079.83 1218.65 1080.8 1219.2 C1081.77 1219.75 1084.83 1224.89 1086.3 1224.7 C1087.77 1224.51 1090.33 1219.69 1091.8 1217.8 C1093.27 1215.91 1096.38 1211.53 1097.3 1210.5 C1098.22 1209.47 1097.79 1209.63 1098.7 1210.1 C1099.61 1210.57 1102.58 1214.13 1104.1 1214 C1105.62 1213.87 1108.63 1209.62 1110.1 1209.1 C1111.57 1208.58 1113.51 1210.89 1115.1 1210.1 C1116.69 1209.31 1119.63 1204.48 1122 1203.2 C1124.37 1201.92 1130.46 1200.38 1132.9 1200.5 C1135.34 1200.62 1137.98 1204.05 1140.3 1204.1 C1142.62 1204.15 1148.11 1201.45 1150.3 1200.9 C1152.49 1200.35 1154.99 1200.48 1156.7 1200 C1158.41 1199.52 1161.51 1197.91 1163.1 1197.3 C1164.69 1196.69 1167.28 1195.49 1168.6 1195.4 C1169.92 1195.31 1171.84 1196.29 1173 1196.6 C1174.16 1196.91 1176.11 1197.74 1177.3 1197.7 C1178.49 1197.66 1180.67 1196.79 1181.9 1196.3 C1183.13 1195.81 1185.03 1194.09 1186.5 1194 C1187.97 1193.91 1191.33 1195.6 1192.9 1195.6 C1194.47 1195.6 1196.85 1194.07 1198.3 1194 C1199.75 1193.93 1202.21 1195.29 1203.8 1195.1 C1205.39 1194.91 1208.61 1192.68 1210.2 1192.6 C1211.79 1192.52 1214.17 1194.58 1215.7 1194.5 C1217.23 1194.42 1219.99 1192.21 1221.7 1192 C1223.41 1191.79 1226.37 1192.87 1228.5 1192.9 C1230.63 1192.93 1235.5 1192.48 1237.7 1192.2 C1239.9 1191.92 1243.05 1190.83 1245 1190.8 C1246.95 1190.77 1250.11 1191.81 1252.3 1192 C1254.49 1192.19 1258.96 1192.4 1261.4 1192.2 C1263.84 1192 1268.16 1190.62 1270.6 1190.5 C1273.04 1190.38 1277.26 1191.42 1279.7 1191.3 C1282.14 1191.18 1286.46 1189.71 1288.9 1189.6 C1291.34 1189.49 1295.32 1190.53 1298 1190.5 C1300.68 1190.47 1306.32 1189.4 1309 1189.4 C1311.68 1189.4 1315.3 1190.43 1318.1 1190.5 C1320.9 1190.57 1325.61 1190.06 1330 1189.9 C1334.39 1189.74 1347 1189.29 1351 1189.3 C1355 1189.31 1357.2 1190.01 1360 1190 C1362.8 1189.99 1366.67 1189.28 1372 1189.2 C1377.33 1189.12 1390.93 1189.45 1400 1189.4 C1409.07 1189.35 1428 1188.91 1440 1188.8 C1452 1188.69 1480.93 1188.55 1490 1188.6 C1499.07 1188.65 1502.93 1189.2 1508 1189.2 C1513.07 1189.2 1514.27 1188.69 1528 1188.6 C1541.73 1188.51 1599.93 1188.51 1611 1188.5" fill="none" stroke="#1e6b12" stroke-width="2.25" stroke-linejoin="round" stroke-linecap="round"/>
<path d="M1021.9 1450.6 C1022.63 1446.23 1026.37 1425.47 1027.4 1417.8 C1028.43 1410.13 1029.01 1401.26 1029.6 1393.1 C1030.19 1384.94 1031.35 1362.55 1031.8 1356.6 C1032.25 1350.65 1032.67 1349.83 1033 1348.5 C1033.33 1347.17 1033.93 1346.47 1034.3 1346.6 C1034.67 1346.73 1035.16 1347.49 1035.8 1349.5 C1036.44 1351.51 1038.5 1360.63 1039.1 1361.7 C1039.7 1362.77 1039.91 1360.31 1040.3 1357.5 C1040.69 1354.69 1041.39 1346.36 1042 1340.6 C1042.61 1334.84 1044.3 1318.09 1044.9 1314.3 C1045.5 1310.51 1045.82 1312.64 1046.5 1312.2 C1047.18 1311.76 1048.67 1312.47 1050 1311 C1051.33 1309.53 1055.14 1304.64 1056.5 1301.2 C1057.86 1297.76 1059.32 1288.89 1060.2 1285.2 C1061.08 1281.51 1062.03 1275.02 1063.1 1273.5 C1064.17 1271.98 1067.03 1275.05 1068.2 1273.8 C1069.37 1272.55 1071.02 1266.27 1071.9 1264.1 C1072.78 1261.93 1073.73 1258.47 1074.8 1257.5 C1075.87 1256.53 1078.63 1258.07 1079.9 1256.8 C1081.17 1255.53 1083.27 1249.53 1084.3 1248 C1085.33 1246.47 1086.84 1245.73 1087.6 1245.3 C1088.36 1244.87 1088.75 1244.23 1090 1244.8 C1091.25 1245.37 1095.55 1249.91 1097 1249.6 C1098.45 1249.29 1099.89 1244.18 1100.9 1242.5 C1101.91 1240.82 1103.37 1238.09 1104.6 1237 C1105.83 1235.91 1108.03 1234.85 1110.1 1234.3 C1112.17 1233.75 1117.78 1233.85 1120.1 1232.9 C1122.42 1231.95 1125.85 1227.99 1127.5 1227.2 C1129.15 1226.41 1130.86 1228.13 1132.5 1227 C1134.14 1225.87 1138.04 1219.46 1139.8 1218.7 C1141.56 1217.94 1144.18 1221.31 1145.7 1221.3 C1147.22 1221.29 1149.73 1218.64 1151.2 1218.6 C1152.67 1218.56 1155.11 1221.71 1156.7 1221 C1158.29 1220.29 1161.39 1214.09 1163.1 1213.3 C1164.81 1212.51 1167.85 1215.23 1169.5 1215.1 C1171.15 1214.97 1173.97 1212.94 1175.5 1212.3 C1177.03 1211.66 1179.29 1210.3 1181 1210.3 C1182.71 1210.3 1186.23 1211.98 1188.3 1212.3 C1190.37 1212.62 1194.31 1213.25 1196.5 1212.7 C1198.69 1212.15 1202.87 1208.89 1204.7 1208.2 C1206.53 1207.51 1208.61 1207.34 1210.2 1207.5 C1211.79 1207.66 1214.4 1209.25 1216.6 1209.4 C1218.8 1209.55 1224.38 1208.97 1226.7 1208.6 C1229.02 1208.23 1232.05 1207.03 1234 1206.6 C1235.95 1206.17 1239.35 1205.76 1241.3 1205.4 C1243.25 1205.04 1246.52 1203.81 1248.6 1203.9 C1250.68 1203.99 1254.94 1206.06 1256.9 1206.1 C1258.86 1206.14 1261.59 1204.32 1263.3 1204.2 C1265.01 1204.08 1267.51 1205.32 1269.7 1205.2 C1271.89 1205.08 1277.51 1203.55 1279.7 1203.3 C1281.89 1203.05 1284.39 1203.07 1286.1 1203.3 C1287.81 1203.53 1290.79 1205.08 1292.5 1205 C1294.21 1204.92 1297.31 1202.77 1298.9 1202.7 C1300.49 1202.63 1302.2 1204.5 1304.4 1204.5 C1306.6 1204.5 1312.84 1202.9 1315.4 1202.7 C1317.96 1202.5 1321.65 1203 1323.6 1203 C1325.55 1203 1327.81 1202.62 1330 1202.7 C1332.19 1202.78 1337.07 1203.64 1340 1203.6 C1342.93 1203.56 1348.8 1202.48 1352 1202.4 C1355.2 1202.32 1360.27 1203.05 1364 1203 C1367.73 1202.95 1375.2 1202.09 1380 1202 C1384.8 1201.91 1394.67 1202.37 1400 1202.3 C1405.33 1202.23 1413.33 1201.59 1420 1201.5 C1426.67 1201.41 1442 1201.67 1450 1201.6 C1458 1201.53 1470.67 1201.05 1480 1201 C1489.33 1200.95 1509.33 1201.24 1520 1201.2 C1530.67 1201.16 1550 1200.71 1560 1200.7 C1570 1200.69 1588.2 1201.1 1595 1201.1 C1601.8 1201.1 1608.87 1200.75 1611 1200.7" fill="none" stroke="#641eaa" stroke-width="2.16" stroke-linejoin="round" stroke-linecap="round"/>
<text x="1376.05" y="1576.3" font-size="35" text-anchor="middle" font-weight="bold"><tspan font-style="italic">x/L</tspan> ratio</text>
<text transform="translate(935.4 1294) rotate(-90)" font-size="35" text-anchor="middle" font-weight="bold"><tspan font-style="italic">P</tspan><tspan font-style="italic" font-size="21.5" dy="7.6">x</tspan><tspan dy="-7.6"> (Bar)</tspan></text>
<line x1="1497.8" y1="1311.4" x2="1545.9" y2="1311.4" stroke="#0000ff" stroke-width="2.6" stroke-linecap="round"/>
<text transform="translate(1551.1 1318.8) scale(0.990 1)" font-size="21" text-anchor="start" font-weight="normal" font-style="normal">0.05 L/s, 3.06 bar</text>
<line x1="1497.8" y1="1351.4" x2="1545.9" y2="1351.4" stroke="#ff0000" stroke-width="2.6" stroke-linecap="round"/>
<text transform="translate(1551.1 1358.8) scale(0.990 1)" font-size="21" text-anchor="start" font-weight="normal" font-style="normal">0.15 L/s, 3.00 bar</text>
<line x1="1497.8" y1="1391.1" x2="1545.9" y2="1391.1" stroke="#000000" stroke-width="2.5" stroke-linecap="round"/>
<text transform="translate(1551.1 1398.5) scale(0.990 1)" font-size="21" text-anchor="start" font-weight="normal" font-style="normal">0.25 L/s, 2.92 bar</text>
<line x1="1497.8" y1="1430.9" x2="1545.9" y2="1430.9" stroke="#1e6b12" stroke-width="2.45" stroke-linecap="round"/>
<text transform="translate(1551.1 1438.3) scale(0.990 1)" font-size="21" text-anchor="start" font-weight="normal" font-style="normal">0.35 L/s, 2.48 bar</text>
<line x1="1497.8" y1="1472.1" x2="1545.9" y2="1472.1" stroke="#641eaa" stroke-width="2.35" stroke-linecap="round"/>
<text transform="translate(1551.1 1479.5) scale(0.990 1)" font-size="21" text-anchor="start" font-weight="normal" font-style="normal">0.45 L/s, 2.34 bar</text>
<text transform="translate(1679 1140.8) scale(1.000 1)" font-size="39.5" text-anchor="start" font-weight="bold" font-style="normal">(f)</text>
</svg></body></html>
